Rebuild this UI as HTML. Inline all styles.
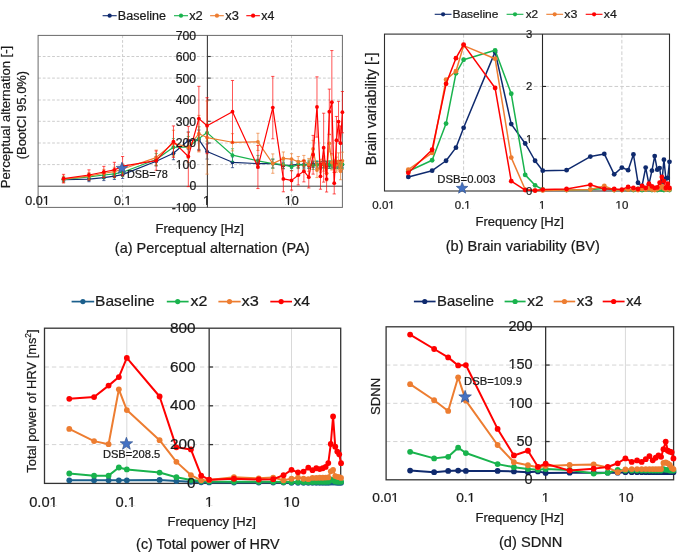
<!DOCTYPE html>
<html><head><meta charset="utf-8"><style>
html,body{margin:0;padding:0;background:#fff;}
svg{display:block;font-family:"Liberation Sans", sans-serif;-webkit-font-smoothing:antialiased;will-change:transform;}
text{stroke:#1a1a1a;stroke-width:0.22px;}
</style></head><body>
<svg width="685" height="552" viewBox="0 0 685 552">
<rect width="685" height="552" fill="#fff"/>
<line x1="38.10" y1="164.60" x2="342.40" y2="164.60" stroke="#cdcdcd" stroke-width="1" stroke-dasharray="2.8,1.87"/>
<line x1="38.10" y1="143.00" x2="342.40" y2="143.00" stroke="#cdcdcd" stroke-width="1" stroke-dasharray="2.8,1.87"/>
<line x1="38.10" y1="121.30" x2="342.40" y2="121.30" stroke="#cdcdcd" stroke-width="1" stroke-dasharray="2.8,1.87"/>
<line x1="38.10" y1="100.00" x2="342.40" y2="100.00" stroke="#cdcdcd" stroke-width="1" stroke-dasharray="2.8,1.87"/>
<line x1="38.10" y1="78.10" x2="342.40" y2="78.10" stroke="#cdcdcd" stroke-width="1" stroke-dasharray="2.8,1.87"/>
<line x1="38.10" y1="56.50" x2="342.40" y2="56.50" stroke="#cdcdcd" stroke-width="1" stroke-dasharray="2.8,1.87"/>
<line x1="122.58" y1="35.40" x2="122.58" y2="207.40" stroke="#cdcdcd" stroke-width="1" stroke-dasharray="2.8,1.87"/>
<line x1="291.54" y1="35.40" x2="291.54" y2="207.40" stroke="#cdcdcd" stroke-width="1" stroke-dasharray="2.8,1.87"/>
<rect x="38.1" y="35.4" width="304.30" height="172.00" fill="none" stroke="#6a6a6a" stroke-width="1"/>
<line x1="38.10" y1="186.20" x2="342.40" y2="186.20" stroke="#404040" stroke-width="1"/>
<line x1="207.40" y1="35.40" x2="207.40" y2="207.40" stroke="#3a3a3a" stroke-width="1.1"/>
<line x1="207.40" y1="164.60" x2="210.80" y2="164.60" stroke="#3a3a3a" stroke-width="1.1"/>
<line x1="207.40" y1="143.00" x2="210.80" y2="143.00" stroke="#3a3a3a" stroke-width="1.1"/>
<line x1="207.40" y1="121.30" x2="210.80" y2="121.30" stroke="#3a3a3a" stroke-width="1.1"/>
<line x1="207.40" y1="100.00" x2="210.80" y2="100.00" stroke="#3a3a3a" stroke-width="1.1"/>
<line x1="207.40" y1="78.10" x2="210.80" y2="78.10" stroke="#3a3a3a" stroke-width="1.1"/>
<line x1="207.40" y1="56.50" x2="210.80" y2="56.50" stroke="#3a3a3a" stroke-width="1.1"/>
<line x1="63.53" y1="177.59" x2="63.53" y2="181.89" stroke="#0f2a6e" stroke-width="0.9" stroke-opacity="0.75"/>
<line x1="61.93" y1="177.59" x2="65.13" y2="177.59" stroke="#0f2a6e" stroke-width="0.9" stroke-opacity="0.75"/>
<line x1="61.93" y1="181.89" x2="65.13" y2="181.89" stroke="#0f2a6e" stroke-width="0.9" stroke-opacity="0.75"/>
<line x1="88.96" y1="176.51" x2="88.96" y2="181.68" stroke="#0f2a6e" stroke-width="0.9" stroke-opacity="0.75"/>
<line x1="87.36" y1="176.51" x2="90.56" y2="176.51" stroke="#0f2a6e" stroke-width="0.9" stroke-opacity="0.75"/>
<line x1="87.36" y1="181.68" x2="90.56" y2="181.68" stroke="#0f2a6e" stroke-width="0.9" stroke-opacity="0.75"/>
<line x1="103.84" y1="174.57" x2="103.84" y2="180.60" stroke="#0f2a6e" stroke-width="0.9" stroke-opacity="0.75"/>
<line x1="102.24" y1="174.57" x2="105.44" y2="174.57" stroke="#0f2a6e" stroke-width="0.9" stroke-opacity="0.75"/>
<line x1="102.24" y1="180.60" x2="105.44" y2="180.60" stroke="#0f2a6e" stroke-width="0.9" stroke-opacity="0.75"/>
<line x1="114.39" y1="172.64" x2="114.39" y2="179.53" stroke="#0f2a6e" stroke-width="0.9" stroke-opacity="0.75"/>
<line x1="112.79" y1="172.64" x2="115.99" y2="172.64" stroke="#0f2a6e" stroke-width="0.9" stroke-opacity="0.75"/>
<line x1="112.79" y1="179.53" x2="115.99" y2="179.53" stroke="#0f2a6e" stroke-width="0.9" stroke-opacity="0.75"/>
<line x1="122.58" y1="170.70" x2="122.58" y2="178.45" stroke="#0f2a6e" stroke-width="0.9" stroke-opacity="0.75"/>
<line x1="120.98" y1="170.70" x2="124.18" y2="170.70" stroke="#0f2a6e" stroke-width="0.9" stroke-opacity="0.75"/>
<line x1="120.98" y1="178.45" x2="124.18" y2="178.45" stroke="#0f2a6e" stroke-width="0.9" stroke-opacity="0.75"/>
<line x1="156.20" y1="156.49" x2="156.20" y2="165.96" stroke="#0f2a6e" stroke-width="0.9" stroke-opacity="0.75"/>
<line x1="154.60" y1="156.49" x2="157.80" y2="156.49" stroke="#0f2a6e" stroke-width="0.9" stroke-opacity="0.75"/>
<line x1="154.60" y1="165.96" x2="157.80" y2="165.96" stroke="#0f2a6e" stroke-width="0.9" stroke-opacity="0.75"/>
<line x1="173.44" y1="146.80" x2="173.44" y2="159.72" stroke="#0f2a6e" stroke-width="0.9" stroke-opacity="0.75"/>
<line x1="171.84" y1="146.80" x2="175.04" y2="146.80" stroke="#0f2a6e" stroke-width="0.9" stroke-opacity="0.75"/>
<line x1="171.84" y1="159.72" x2="175.04" y2="159.72" stroke="#0f2a6e" stroke-width="0.9" stroke-opacity="0.75"/>
<line x1="188.32" y1="131.94" x2="188.32" y2="149.17" stroke="#0f2a6e" stroke-width="0.9" stroke-opacity="0.75"/>
<line x1="186.72" y1="131.94" x2="189.92" y2="131.94" stroke="#0f2a6e" stroke-width="0.9" stroke-opacity="0.75"/>
<line x1="186.72" y1="149.17" x2="189.92" y2="149.17" stroke="#0f2a6e" stroke-width="0.9" stroke-opacity="0.75"/>
<line x1="198.87" y1="130.01" x2="198.87" y2="149.38" stroke="#0f2a6e" stroke-width="0.9" stroke-opacity="0.75"/>
<line x1="197.27" y1="130.01" x2="200.47" y2="130.01" stroke="#0f2a6e" stroke-width="0.9" stroke-opacity="0.75"/>
<line x1="197.27" y1="149.38" x2="200.47" y2="149.38" stroke="#0f2a6e" stroke-width="0.9" stroke-opacity="0.75"/>
<line x1="207.06" y1="144.00" x2="207.06" y2="159.07" stroke="#0f2a6e" stroke-width="0.9" stroke-opacity="0.75"/>
<line x1="205.46" y1="144.00" x2="208.66" y2="144.00" stroke="#0f2a6e" stroke-width="0.9" stroke-opacity="0.75"/>
<line x1="205.46" y1="159.07" x2="208.66" y2="159.07" stroke="#0f2a6e" stroke-width="0.9" stroke-opacity="0.75"/>
<line x1="232.49" y1="156.92" x2="232.49" y2="167.68" stroke="#0f2a6e" stroke-width="0.9" stroke-opacity="0.75"/>
<line x1="230.89" y1="156.92" x2="234.09" y2="156.92" stroke="#0f2a6e" stroke-width="0.9" stroke-opacity="0.75"/>
<line x1="230.89" y1="167.68" x2="234.09" y2="167.68" stroke="#0f2a6e" stroke-width="0.9" stroke-opacity="0.75"/>
<line x1="257.92" y1="159.29" x2="257.92" y2="167.90" stroke="#0f2a6e" stroke-width="0.9" stroke-opacity="0.75"/>
<line x1="256.32" y1="159.29" x2="259.52" y2="159.29" stroke="#0f2a6e" stroke-width="0.9" stroke-opacity="0.75"/>
<line x1="256.32" y1="167.90" x2="259.52" y2="167.90" stroke="#0f2a6e" stroke-width="0.9" stroke-opacity="0.75"/>
<line x1="272.80" y1="159.29" x2="272.80" y2="167.90" stroke="#0f2a6e" stroke-width="0.9" stroke-opacity="0.75"/>
<line x1="271.20" y1="159.29" x2="274.40" y2="159.29" stroke="#0f2a6e" stroke-width="0.9" stroke-opacity="0.75"/>
<line x1="271.20" y1="167.90" x2="274.40" y2="167.90" stroke="#0f2a6e" stroke-width="0.9" stroke-opacity="0.75"/>
<line x1="283.35" y1="162.30" x2="283.35" y2="168.76" stroke="#0f2a6e" stroke-width="0.9" stroke-opacity="0.75"/>
<line x1="281.75" y1="162.30" x2="284.95" y2="162.30" stroke="#0f2a6e" stroke-width="0.9" stroke-opacity="0.75"/>
<line x1="281.75" y1="168.76" x2="284.95" y2="168.76" stroke="#0f2a6e" stroke-width="0.9" stroke-opacity="0.75"/>
<line x1="291.54" y1="161.87" x2="291.54" y2="168.33" stroke="#0f2a6e" stroke-width="0.9" stroke-opacity="0.75"/>
<line x1="289.94" y1="161.87" x2="293.14" y2="161.87" stroke="#0f2a6e" stroke-width="0.9" stroke-opacity="0.75"/>
<line x1="289.94" y1="168.33" x2="293.14" y2="168.33" stroke="#0f2a6e" stroke-width="0.9" stroke-opacity="0.75"/>
<line x1="298.23" y1="161.23" x2="298.23" y2="167.68" stroke="#0f2a6e" stroke-width="0.9" stroke-opacity="0.75"/>
<line x1="296.63" y1="161.23" x2="299.83" y2="161.23" stroke="#0f2a6e" stroke-width="0.9" stroke-opacity="0.75"/>
<line x1="296.63" y1="167.68" x2="299.83" y2="167.68" stroke="#0f2a6e" stroke-width="0.9" stroke-opacity="0.75"/>
<line x1="303.88" y1="161.44" x2="303.88" y2="167.90" stroke="#0f2a6e" stroke-width="0.9" stroke-opacity="0.75"/>
<line x1="302.28" y1="161.44" x2="305.48" y2="161.44" stroke="#0f2a6e" stroke-width="0.9" stroke-opacity="0.75"/>
<line x1="302.28" y1="167.90" x2="305.48" y2="167.90" stroke="#0f2a6e" stroke-width="0.9" stroke-opacity="0.75"/>
<line x1="308.78" y1="161.87" x2="308.78" y2="168.33" stroke="#0f2a6e" stroke-width="0.9" stroke-opacity="0.75"/>
<line x1="307.18" y1="161.87" x2="310.38" y2="161.87" stroke="#0f2a6e" stroke-width="0.9" stroke-opacity="0.75"/>
<line x1="307.18" y1="168.33" x2="310.38" y2="168.33" stroke="#0f2a6e" stroke-width="0.9" stroke-opacity="0.75"/>
<line x1="313.11" y1="161.01" x2="313.11" y2="167.47" stroke="#0f2a6e" stroke-width="0.9" stroke-opacity="0.75"/>
<line x1="311.51" y1="161.01" x2="314.71" y2="161.01" stroke="#0f2a6e" stroke-width="0.9" stroke-opacity="0.75"/>
<line x1="311.51" y1="167.47" x2="314.71" y2="167.47" stroke="#0f2a6e" stroke-width="0.9" stroke-opacity="0.75"/>
<line x1="316.97" y1="161.44" x2="316.97" y2="167.90" stroke="#0f2a6e" stroke-width="0.9" stroke-opacity="0.75"/>
<line x1="315.37" y1="161.44" x2="318.57" y2="161.44" stroke="#0f2a6e" stroke-width="0.9" stroke-opacity="0.75"/>
<line x1="315.37" y1="167.90" x2="318.57" y2="167.90" stroke="#0f2a6e" stroke-width="0.9" stroke-opacity="0.75"/>
<line x1="320.47" y1="161.66" x2="320.47" y2="168.11" stroke="#0f2a6e" stroke-width="0.9" stroke-opacity="0.75"/>
<line x1="318.87" y1="161.66" x2="322.07" y2="161.66" stroke="#0f2a6e" stroke-width="0.9" stroke-opacity="0.75"/>
<line x1="318.87" y1="168.11" x2="322.07" y2="168.11" stroke="#0f2a6e" stroke-width="0.9" stroke-opacity="0.75"/>
<line x1="323.66" y1="161.23" x2="323.66" y2="167.68" stroke="#0f2a6e" stroke-width="0.9" stroke-opacity="0.75"/>
<line x1="322.06" y1="161.23" x2="325.26" y2="161.23" stroke="#0f2a6e" stroke-width="0.9" stroke-opacity="0.75"/>
<line x1="322.06" y1="167.68" x2="325.26" y2="167.68" stroke="#0f2a6e" stroke-width="0.9" stroke-opacity="0.75"/>
<line x1="326.60" y1="161.44" x2="326.60" y2="167.90" stroke="#0f2a6e" stroke-width="0.9" stroke-opacity="0.75"/>
<line x1="325.00" y1="161.44" x2="328.20" y2="161.44" stroke="#0f2a6e" stroke-width="0.9" stroke-opacity="0.75"/>
<line x1="325.00" y1="167.90" x2="328.20" y2="167.90" stroke="#0f2a6e" stroke-width="0.9" stroke-opacity="0.75"/>
<line x1="329.32" y1="161.87" x2="329.32" y2="168.33" stroke="#0f2a6e" stroke-width="0.9" stroke-opacity="0.75"/>
<line x1="327.72" y1="161.87" x2="330.92" y2="161.87" stroke="#0f2a6e" stroke-width="0.9" stroke-opacity="0.75"/>
<line x1="327.72" y1="168.33" x2="330.92" y2="168.33" stroke="#0f2a6e" stroke-width="0.9" stroke-opacity="0.75"/>
<line x1="331.85" y1="161.44" x2="331.85" y2="167.90" stroke="#0f2a6e" stroke-width="0.9" stroke-opacity="0.75"/>
<line x1="330.25" y1="161.44" x2="333.45" y2="161.44" stroke="#0f2a6e" stroke-width="0.9" stroke-opacity="0.75"/>
<line x1="330.25" y1="167.90" x2="333.45" y2="167.90" stroke="#0f2a6e" stroke-width="0.9" stroke-opacity="0.75"/>
<line x1="334.22" y1="161.01" x2="334.22" y2="167.47" stroke="#0f2a6e" stroke-width="0.9" stroke-opacity="0.75"/>
<line x1="332.62" y1="161.01" x2="335.82" y2="161.01" stroke="#0f2a6e" stroke-width="0.9" stroke-opacity="0.75"/>
<line x1="332.62" y1="167.47" x2="335.82" y2="167.47" stroke="#0f2a6e" stroke-width="0.9" stroke-opacity="0.75"/>
<line x1="336.44" y1="161.66" x2="336.44" y2="168.11" stroke="#0f2a6e" stroke-width="0.9" stroke-opacity="0.75"/>
<line x1="334.84" y1="161.66" x2="338.04" y2="161.66" stroke="#0f2a6e" stroke-width="0.9" stroke-opacity="0.75"/>
<line x1="334.84" y1="168.11" x2="338.04" y2="168.11" stroke="#0f2a6e" stroke-width="0.9" stroke-opacity="0.75"/>
<line x1="338.54" y1="161.23" x2="338.54" y2="167.68" stroke="#0f2a6e" stroke-width="0.9" stroke-opacity="0.75"/>
<line x1="336.94" y1="161.23" x2="340.14" y2="161.23" stroke="#0f2a6e" stroke-width="0.9" stroke-opacity="0.75"/>
<line x1="336.94" y1="167.68" x2="340.14" y2="167.68" stroke="#0f2a6e" stroke-width="0.9" stroke-opacity="0.75"/>
<line x1="340.52" y1="161.44" x2="340.52" y2="167.90" stroke="#0f2a6e" stroke-width="0.9" stroke-opacity="0.75"/>
<line x1="338.92" y1="161.44" x2="342.12" y2="161.44" stroke="#0f2a6e" stroke-width="0.9" stroke-opacity="0.75"/>
<line x1="338.92" y1="167.90" x2="342.12" y2="167.90" stroke="#0f2a6e" stroke-width="0.9" stroke-opacity="0.75"/>
<line x1="342.40" y1="161.44" x2="342.40" y2="167.90" stroke="#0f2a6e" stroke-width="0.9" stroke-opacity="0.75"/>
<line x1="340.80" y1="161.44" x2="344.00" y2="161.44" stroke="#0f2a6e" stroke-width="0.9" stroke-opacity="0.75"/>
<line x1="340.80" y1="167.90" x2="344.00" y2="167.90" stroke="#0f2a6e" stroke-width="0.9" stroke-opacity="0.75"/>
<polyline points="63.53,179.74 88.96,179.10 103.84,177.59 114.39,176.08 122.58,174.57 156.20,161.23 173.44,153.26 188.32,140.56 198.87,139.70 207.06,151.54 232.49,162.30 257.92,163.59 272.80,163.59 283.35,165.53 291.54,165.10 298.23,164.45 303.88,164.67 308.78,165.10 313.11,164.24 316.97,164.67 320.47,164.89 323.66,164.45 326.60,164.67 329.32,165.10 331.85,164.67 334.22,164.24 336.44,164.89 338.54,164.45 340.52,164.67 342.40,164.67" fill="none" stroke="#0f2a6e" stroke-width="1.2" stroke-linejoin="round"/>
<circle cx="63.53" cy="179.74" r="1.9" fill="#0f2a6e"/>
<circle cx="88.96" cy="179.10" r="1.9" fill="#0f2a6e"/>
<circle cx="103.84" cy="177.59" r="1.9" fill="#0f2a6e"/>
<circle cx="114.39" cy="176.08" r="1.9" fill="#0f2a6e"/>
<circle cx="122.58" cy="174.57" r="1.9" fill="#0f2a6e"/>
<circle cx="156.20" cy="161.23" r="1.9" fill="#0f2a6e"/>
<circle cx="173.44" cy="153.26" r="1.9" fill="#0f2a6e"/>
<circle cx="188.32" cy="140.56" r="1.9" fill="#0f2a6e"/>
<circle cx="198.87" cy="139.70" r="1.9" fill="#0f2a6e"/>
<circle cx="207.06" cy="151.54" r="1.9" fill="#0f2a6e"/>
<circle cx="232.49" cy="162.30" r="1.9" fill="#0f2a6e"/>
<circle cx="257.92" cy="163.59" r="1.9" fill="#0f2a6e"/>
<circle cx="272.80" cy="163.59" r="1.9" fill="#0f2a6e"/>
<circle cx="283.35" cy="165.53" r="1.9" fill="#0f2a6e"/>
<circle cx="291.54" cy="165.10" r="1.9" fill="#0f2a6e"/>
<circle cx="298.23" cy="164.45" r="1.9" fill="#0f2a6e"/>
<circle cx="303.88" cy="164.67" r="1.9" fill="#0f2a6e"/>
<circle cx="308.78" cy="165.10" r="1.9" fill="#0f2a6e"/>
<circle cx="313.11" cy="164.24" r="1.9" fill="#0f2a6e"/>
<circle cx="316.97" cy="164.67" r="1.9" fill="#0f2a6e"/>
<circle cx="320.47" cy="164.89" r="1.9" fill="#0f2a6e"/>
<circle cx="323.66" cy="164.45" r="1.9" fill="#0f2a6e"/>
<circle cx="326.60" cy="164.67" r="1.9" fill="#0f2a6e"/>
<circle cx="329.32" cy="165.10" r="1.9" fill="#0f2a6e"/>
<circle cx="331.85" cy="164.67" r="1.9" fill="#0f2a6e"/>
<circle cx="334.22" cy="164.24" r="1.9" fill="#0f2a6e"/>
<circle cx="336.44" cy="164.89" r="1.9" fill="#0f2a6e"/>
<circle cx="338.54" cy="164.45" r="1.9" fill="#0f2a6e"/>
<circle cx="340.52" cy="164.67" r="1.9" fill="#0f2a6e"/>
<circle cx="342.40" cy="164.67" r="1.9" fill="#0f2a6e"/>
<line x1="63.53" y1="176.73" x2="63.53" y2="181.89" stroke="#19b34d" stroke-width="0.9" stroke-opacity="0.75"/>
<line x1="61.93" y1="176.73" x2="65.13" y2="176.73" stroke="#19b34d" stroke-width="0.9" stroke-opacity="0.75"/>
<line x1="61.93" y1="181.89" x2="65.13" y2="181.89" stroke="#19b34d" stroke-width="0.9" stroke-opacity="0.75"/>
<line x1="88.96" y1="173.93" x2="88.96" y2="179.96" stroke="#19b34d" stroke-width="0.9" stroke-opacity="0.75"/>
<line x1="87.36" y1="173.93" x2="90.56" y2="173.93" stroke="#19b34d" stroke-width="0.9" stroke-opacity="0.75"/>
<line x1="87.36" y1="179.96" x2="90.56" y2="179.96" stroke="#19b34d" stroke-width="0.9" stroke-opacity="0.75"/>
<line x1="103.84" y1="171.56" x2="103.84" y2="178.45" stroke="#19b34d" stroke-width="0.9" stroke-opacity="0.75"/>
<line x1="102.24" y1="171.56" x2="105.44" y2="171.56" stroke="#19b34d" stroke-width="0.9" stroke-opacity="0.75"/>
<line x1="102.24" y1="178.45" x2="105.44" y2="178.45" stroke="#19b34d" stroke-width="0.9" stroke-opacity="0.75"/>
<line x1="114.39" y1="170.05" x2="114.39" y2="177.80" stroke="#19b34d" stroke-width="0.9" stroke-opacity="0.75"/>
<line x1="112.79" y1="170.05" x2="115.99" y2="170.05" stroke="#19b34d" stroke-width="0.9" stroke-opacity="0.75"/>
<line x1="112.79" y1="177.80" x2="115.99" y2="177.80" stroke="#19b34d" stroke-width="0.9" stroke-opacity="0.75"/>
<line x1="122.58" y1="167.90" x2="122.58" y2="176.51" stroke="#19b34d" stroke-width="0.9" stroke-opacity="0.75"/>
<line x1="120.98" y1="167.90" x2="124.18" y2="167.90" stroke="#19b34d" stroke-width="0.9" stroke-opacity="0.75"/>
<line x1="120.98" y1="176.51" x2="124.18" y2="176.51" stroke="#19b34d" stroke-width="0.9" stroke-opacity="0.75"/>
<line x1="156.20" y1="153.47" x2="156.20" y2="165.53" stroke="#19b34d" stroke-width="0.9" stroke-opacity="0.75"/>
<line x1="154.60" y1="153.47" x2="157.80" y2="153.47" stroke="#19b34d" stroke-width="0.9" stroke-opacity="0.75"/>
<line x1="154.60" y1="165.53" x2="157.80" y2="165.53" stroke="#19b34d" stroke-width="0.9" stroke-opacity="0.75"/>
<line x1="173.44" y1="138.62" x2="173.44" y2="155.84" stroke="#19b34d" stroke-width="0.9" stroke-opacity="0.75"/>
<line x1="171.84" y1="138.62" x2="175.04" y2="138.62" stroke="#19b34d" stroke-width="0.9" stroke-opacity="0.75"/>
<line x1="171.84" y1="155.84" x2="175.04" y2="155.84" stroke="#19b34d" stroke-width="0.9" stroke-opacity="0.75"/>
<line x1="188.32" y1="136.47" x2="188.32" y2="158.00" stroke="#19b34d" stroke-width="0.9" stroke-opacity="0.75"/>
<line x1="186.72" y1="136.47" x2="189.92" y2="136.47" stroke="#19b34d" stroke-width="0.9" stroke-opacity="0.75"/>
<line x1="186.72" y1="158.00" x2="189.92" y2="158.00" stroke="#19b34d" stroke-width="0.9" stroke-opacity="0.75"/>
<line x1="198.87" y1="126.78" x2="198.87" y2="150.46" stroke="#19b34d" stroke-width="0.9" stroke-opacity="0.75"/>
<line x1="197.27" y1="126.78" x2="200.47" y2="126.78" stroke="#19b34d" stroke-width="0.9" stroke-opacity="0.75"/>
<line x1="197.27" y1="150.46" x2="200.47" y2="150.46" stroke="#19b34d" stroke-width="0.9" stroke-opacity="0.75"/>
<line x1="207.06" y1="123.98" x2="207.06" y2="141.20" stroke="#19b34d" stroke-width="0.9" stroke-opacity="0.75"/>
<line x1="205.46" y1="123.98" x2="208.66" y2="123.98" stroke="#19b34d" stroke-width="0.9" stroke-opacity="0.75"/>
<line x1="205.46" y1="141.20" x2="208.66" y2="141.20" stroke="#19b34d" stroke-width="0.9" stroke-opacity="0.75"/>
<line x1="232.49" y1="148.74" x2="232.49" y2="161.66" stroke="#19b34d" stroke-width="0.9" stroke-opacity="0.75"/>
<line x1="230.89" y1="148.74" x2="234.09" y2="148.74" stroke="#19b34d" stroke-width="0.9" stroke-opacity="0.75"/>
<line x1="230.89" y1="161.66" x2="234.09" y2="161.66" stroke="#19b34d" stroke-width="0.9" stroke-opacity="0.75"/>
<line x1="257.92" y1="155.41" x2="257.92" y2="166.18" stroke="#19b34d" stroke-width="0.9" stroke-opacity="0.75"/>
<line x1="256.32" y1="155.41" x2="259.52" y2="155.41" stroke="#19b34d" stroke-width="0.9" stroke-opacity="0.75"/>
<line x1="256.32" y1="166.18" x2="259.52" y2="166.18" stroke="#19b34d" stroke-width="0.9" stroke-opacity="0.75"/>
<line x1="272.80" y1="158.86" x2="272.80" y2="168.33" stroke="#19b34d" stroke-width="0.9" stroke-opacity="0.75"/>
<line x1="271.20" y1="158.86" x2="274.40" y2="158.86" stroke="#19b34d" stroke-width="0.9" stroke-opacity="0.75"/>
<line x1="271.20" y1="168.33" x2="274.40" y2="168.33" stroke="#19b34d" stroke-width="0.9" stroke-opacity="0.75"/>
<line x1="283.35" y1="160.79" x2="283.35" y2="168.55" stroke="#19b34d" stroke-width="0.9" stroke-opacity="0.75"/>
<line x1="281.75" y1="160.79" x2="284.95" y2="160.79" stroke="#19b34d" stroke-width="0.9" stroke-opacity="0.75"/>
<line x1="281.75" y1="168.55" x2="284.95" y2="168.55" stroke="#19b34d" stroke-width="0.9" stroke-opacity="0.75"/>
<line x1="291.54" y1="162.95" x2="291.54" y2="170.70" stroke="#19b34d" stroke-width="0.9" stroke-opacity="0.75"/>
<line x1="289.94" y1="162.95" x2="293.14" y2="162.95" stroke="#19b34d" stroke-width="0.9" stroke-opacity="0.75"/>
<line x1="289.94" y1="170.70" x2="293.14" y2="170.70" stroke="#19b34d" stroke-width="0.9" stroke-opacity="0.75"/>
<line x1="298.23" y1="160.79" x2="298.23" y2="168.55" stroke="#19b34d" stroke-width="0.9" stroke-opacity="0.75"/>
<line x1="296.63" y1="160.79" x2="299.83" y2="160.79" stroke="#19b34d" stroke-width="0.9" stroke-opacity="0.75"/>
<line x1="296.63" y1="168.55" x2="299.83" y2="168.55" stroke="#19b34d" stroke-width="0.9" stroke-opacity="0.75"/>
<line x1="303.88" y1="161.23" x2="303.88" y2="168.98" stroke="#19b34d" stroke-width="0.9" stroke-opacity="0.75"/>
<line x1="302.28" y1="161.23" x2="305.48" y2="161.23" stroke="#19b34d" stroke-width="0.9" stroke-opacity="0.75"/>
<line x1="302.28" y1="168.98" x2="305.48" y2="168.98" stroke="#19b34d" stroke-width="0.9" stroke-opacity="0.75"/>
<line x1="308.78" y1="160.15" x2="308.78" y2="167.90" stroke="#19b34d" stroke-width="0.9" stroke-opacity="0.75"/>
<line x1="307.18" y1="160.15" x2="310.38" y2="160.15" stroke="#19b34d" stroke-width="0.9" stroke-opacity="0.75"/>
<line x1="307.18" y1="167.90" x2="310.38" y2="167.90" stroke="#19b34d" stroke-width="0.9" stroke-opacity="0.75"/>
<line x1="313.11" y1="161.66" x2="313.11" y2="169.41" stroke="#19b34d" stroke-width="0.9" stroke-opacity="0.75"/>
<line x1="311.51" y1="161.66" x2="314.71" y2="161.66" stroke="#19b34d" stroke-width="0.9" stroke-opacity="0.75"/>
<line x1="311.51" y1="169.41" x2="314.71" y2="169.41" stroke="#19b34d" stroke-width="0.9" stroke-opacity="0.75"/>
<line x1="316.97" y1="160.79" x2="316.97" y2="168.55" stroke="#19b34d" stroke-width="0.9" stroke-opacity="0.75"/>
<line x1="315.37" y1="160.79" x2="318.57" y2="160.79" stroke="#19b34d" stroke-width="0.9" stroke-opacity="0.75"/>
<line x1="315.37" y1="168.55" x2="318.57" y2="168.55" stroke="#19b34d" stroke-width="0.9" stroke-opacity="0.75"/>
<line x1="320.47" y1="161.44" x2="320.47" y2="169.19" stroke="#19b34d" stroke-width="0.9" stroke-opacity="0.75"/>
<line x1="318.87" y1="161.44" x2="322.07" y2="161.44" stroke="#19b34d" stroke-width="0.9" stroke-opacity="0.75"/>
<line x1="318.87" y1="169.19" x2="322.07" y2="169.19" stroke="#19b34d" stroke-width="0.9" stroke-opacity="0.75"/>
<line x1="323.66" y1="160.36" x2="323.66" y2="168.11" stroke="#19b34d" stroke-width="0.9" stroke-opacity="0.75"/>
<line x1="322.06" y1="160.36" x2="325.26" y2="160.36" stroke="#19b34d" stroke-width="0.9" stroke-opacity="0.75"/>
<line x1="322.06" y1="168.11" x2="325.26" y2="168.11" stroke="#19b34d" stroke-width="0.9" stroke-opacity="0.75"/>
<line x1="326.60" y1="161.01" x2="326.60" y2="168.76" stroke="#19b34d" stroke-width="0.9" stroke-opacity="0.75"/>
<line x1="325.00" y1="161.01" x2="328.20" y2="161.01" stroke="#19b34d" stroke-width="0.9" stroke-opacity="0.75"/>
<line x1="325.00" y1="168.76" x2="328.20" y2="168.76" stroke="#19b34d" stroke-width="0.9" stroke-opacity="0.75"/>
<line x1="329.32" y1="160.58" x2="329.32" y2="168.33" stroke="#19b34d" stroke-width="0.9" stroke-opacity="0.75"/>
<line x1="327.72" y1="160.58" x2="330.92" y2="160.58" stroke="#19b34d" stroke-width="0.9" stroke-opacity="0.75"/>
<line x1="327.72" y1="168.33" x2="330.92" y2="168.33" stroke="#19b34d" stroke-width="0.9" stroke-opacity="0.75"/>
<line x1="331.85" y1="161.23" x2="331.85" y2="168.98" stroke="#19b34d" stroke-width="0.9" stroke-opacity="0.75"/>
<line x1="330.25" y1="161.23" x2="333.45" y2="161.23" stroke="#19b34d" stroke-width="0.9" stroke-opacity="0.75"/>
<line x1="330.25" y1="168.98" x2="333.45" y2="168.98" stroke="#19b34d" stroke-width="0.9" stroke-opacity="0.75"/>
<line x1="334.22" y1="160.15" x2="334.22" y2="167.90" stroke="#19b34d" stroke-width="0.9" stroke-opacity="0.75"/>
<line x1="332.62" y1="160.15" x2="335.82" y2="160.15" stroke="#19b34d" stroke-width="0.9" stroke-opacity="0.75"/>
<line x1="332.62" y1="167.90" x2="335.82" y2="167.90" stroke="#19b34d" stroke-width="0.9" stroke-opacity="0.75"/>
<line x1="336.44" y1="160.79" x2="336.44" y2="168.55" stroke="#19b34d" stroke-width="0.9" stroke-opacity="0.75"/>
<line x1="334.84" y1="160.79" x2="338.04" y2="160.79" stroke="#19b34d" stroke-width="0.9" stroke-opacity="0.75"/>
<line x1="334.84" y1="168.55" x2="338.04" y2="168.55" stroke="#19b34d" stroke-width="0.9" stroke-opacity="0.75"/>
<line x1="338.54" y1="161.01" x2="338.54" y2="168.76" stroke="#19b34d" stroke-width="0.9" stroke-opacity="0.75"/>
<line x1="336.94" y1="161.01" x2="340.14" y2="161.01" stroke="#19b34d" stroke-width="0.9" stroke-opacity="0.75"/>
<line x1="336.94" y1="168.76" x2="340.14" y2="168.76" stroke="#19b34d" stroke-width="0.9" stroke-opacity="0.75"/>
<line x1="340.52" y1="160.58" x2="340.52" y2="168.33" stroke="#19b34d" stroke-width="0.9" stroke-opacity="0.75"/>
<line x1="338.92" y1="160.58" x2="342.12" y2="160.58" stroke="#19b34d" stroke-width="0.9" stroke-opacity="0.75"/>
<line x1="338.92" y1="168.33" x2="342.12" y2="168.33" stroke="#19b34d" stroke-width="0.9" stroke-opacity="0.75"/>
<line x1="342.40" y1="160.36" x2="342.40" y2="168.11" stroke="#19b34d" stroke-width="0.9" stroke-opacity="0.75"/>
<line x1="340.80" y1="160.36" x2="344.00" y2="160.36" stroke="#19b34d" stroke-width="0.9" stroke-opacity="0.75"/>
<line x1="340.80" y1="168.11" x2="344.00" y2="168.11" stroke="#19b34d" stroke-width="0.9" stroke-opacity="0.75"/>
<polyline points="63.53,179.31 88.96,176.94 103.84,175.00 114.39,173.93 122.58,172.21 156.20,159.50 173.44,147.23 188.32,147.23 198.87,138.62 207.06,132.59 232.49,155.20 257.92,160.79 272.80,163.59 283.35,164.67 291.54,166.82 298.23,164.67 303.88,165.10 308.78,164.02 313.11,165.53 316.97,164.67 320.47,165.32 323.66,164.24 326.60,164.89 329.32,164.45 331.85,165.10 334.22,164.02 336.44,164.67 338.54,164.89 340.52,164.45 342.40,164.24" fill="none" stroke="#19b34d" stroke-width="1.2" stroke-linejoin="round"/>
<circle cx="63.53" cy="179.31" r="1.9" fill="#19b34d"/>
<circle cx="88.96" cy="176.94" r="1.9" fill="#19b34d"/>
<circle cx="103.84" cy="175.00" r="1.9" fill="#19b34d"/>
<circle cx="114.39" cy="173.93" r="1.9" fill="#19b34d"/>
<circle cx="122.58" cy="172.21" r="1.9" fill="#19b34d"/>
<circle cx="156.20" cy="159.50" r="1.9" fill="#19b34d"/>
<circle cx="173.44" cy="147.23" r="1.9" fill="#19b34d"/>
<circle cx="188.32" cy="147.23" r="1.9" fill="#19b34d"/>
<circle cx="198.87" cy="138.62" r="1.9" fill="#19b34d"/>
<circle cx="207.06" cy="132.59" r="1.9" fill="#19b34d"/>
<circle cx="232.49" cy="155.20" r="1.9" fill="#19b34d"/>
<circle cx="257.92" cy="160.79" r="1.9" fill="#19b34d"/>
<circle cx="272.80" cy="163.59" r="1.9" fill="#19b34d"/>
<circle cx="283.35" cy="164.67" r="1.9" fill="#19b34d"/>
<circle cx="291.54" cy="166.82" r="1.9" fill="#19b34d"/>
<circle cx="298.23" cy="164.67" r="1.9" fill="#19b34d"/>
<circle cx="303.88" cy="165.10" r="1.9" fill="#19b34d"/>
<circle cx="308.78" cy="164.02" r="1.9" fill="#19b34d"/>
<circle cx="313.11" cy="165.53" r="1.9" fill="#19b34d"/>
<circle cx="316.97" cy="164.67" r="1.9" fill="#19b34d"/>
<circle cx="320.47" cy="165.32" r="1.9" fill="#19b34d"/>
<circle cx="323.66" cy="164.24" r="1.9" fill="#19b34d"/>
<circle cx="326.60" cy="164.89" r="1.9" fill="#19b34d"/>
<circle cx="329.32" cy="164.45" r="1.9" fill="#19b34d"/>
<circle cx="331.85" cy="165.10" r="1.9" fill="#19b34d"/>
<circle cx="334.22" cy="164.02" r="1.9" fill="#19b34d"/>
<circle cx="336.44" cy="164.67" r="1.9" fill="#19b34d"/>
<circle cx="338.54" cy="164.89" r="1.9" fill="#19b34d"/>
<circle cx="340.52" cy="164.45" r="1.9" fill="#19b34d"/>
<circle cx="342.40" cy="164.24" r="1.9" fill="#19b34d"/>
<line x1="63.53" y1="176.08" x2="63.53" y2="182.11" stroke="#ed7d31" stroke-width="0.9" stroke-opacity="0.75"/>
<line x1="61.93" y1="176.08" x2="65.13" y2="176.08" stroke="#ed7d31" stroke-width="0.9" stroke-opacity="0.75"/>
<line x1="61.93" y1="182.11" x2="65.13" y2="182.11" stroke="#ed7d31" stroke-width="0.9" stroke-opacity="0.75"/>
<line x1="88.96" y1="172.64" x2="88.96" y2="179.53" stroke="#ed7d31" stroke-width="0.9" stroke-opacity="0.75"/>
<line x1="87.36" y1="172.64" x2="90.56" y2="172.64" stroke="#ed7d31" stroke-width="0.9" stroke-opacity="0.75"/>
<line x1="87.36" y1="179.53" x2="90.56" y2="179.53" stroke="#ed7d31" stroke-width="0.9" stroke-opacity="0.75"/>
<line x1="103.84" y1="169.41" x2="103.84" y2="177.16" stroke="#ed7d31" stroke-width="0.9" stroke-opacity="0.75"/>
<line x1="102.24" y1="169.41" x2="105.44" y2="169.41" stroke="#ed7d31" stroke-width="0.9" stroke-opacity="0.75"/>
<line x1="102.24" y1="177.16" x2="105.44" y2="177.16" stroke="#ed7d31" stroke-width="0.9" stroke-opacity="0.75"/>
<line x1="114.39" y1="167.25" x2="114.39" y2="175.87" stroke="#ed7d31" stroke-width="0.9" stroke-opacity="0.75"/>
<line x1="112.79" y1="167.25" x2="115.99" y2="167.25" stroke="#ed7d31" stroke-width="0.9" stroke-opacity="0.75"/>
<line x1="112.79" y1="175.87" x2="115.99" y2="175.87" stroke="#ed7d31" stroke-width="0.9" stroke-opacity="0.75"/>
<line x1="122.58" y1="163.81" x2="122.58" y2="174.14" stroke="#ed7d31" stroke-width="0.9" stroke-opacity="0.75"/>
<line x1="120.98" y1="163.81" x2="124.18" y2="163.81" stroke="#ed7d31" stroke-width="0.9" stroke-opacity="0.75"/>
<line x1="120.98" y1="174.14" x2="124.18" y2="174.14" stroke="#ed7d31" stroke-width="0.9" stroke-opacity="0.75"/>
<line x1="156.20" y1="150.03" x2="156.20" y2="165.10" stroke="#ed7d31" stroke-width="0.9" stroke-opacity="0.75"/>
<line x1="154.60" y1="150.03" x2="157.80" y2="150.03" stroke="#ed7d31" stroke-width="0.9" stroke-opacity="0.75"/>
<line x1="154.60" y1="165.10" x2="157.80" y2="165.10" stroke="#ed7d31" stroke-width="0.9" stroke-opacity="0.75"/>
<line x1="173.44" y1="130.22" x2="173.44" y2="156.06" stroke="#ed7d31" stroke-width="0.9" stroke-opacity="0.75"/>
<line x1="171.84" y1="130.22" x2="175.04" y2="130.22" stroke="#ed7d31" stroke-width="0.9" stroke-opacity="0.75"/>
<line x1="171.84" y1="156.06" x2="175.04" y2="156.06" stroke="#ed7d31" stroke-width="0.9" stroke-opacity="0.75"/>
<line x1="188.32" y1="132.38" x2="188.32" y2="162.52" stroke="#ed7d31" stroke-width="0.9" stroke-opacity="0.75"/>
<line x1="186.72" y1="132.38" x2="189.92" y2="132.38" stroke="#ed7d31" stroke-width="0.9" stroke-opacity="0.75"/>
<line x1="186.72" y1="162.52" x2="189.92" y2="162.52" stroke="#ed7d31" stroke-width="0.9" stroke-opacity="0.75"/>
<line x1="198.87" y1="115.37" x2="198.87" y2="151.97" stroke="#ed7d31" stroke-width="0.9" stroke-opacity="0.75"/>
<line x1="197.27" y1="115.37" x2="200.47" y2="115.37" stroke="#ed7d31" stroke-width="0.9" stroke-opacity="0.75"/>
<line x1="197.27" y1="151.97" x2="200.47" y2="151.97" stroke="#ed7d31" stroke-width="0.9" stroke-opacity="0.75"/>
<line x1="207.06" y1="100.94" x2="207.06" y2="174.14" stroke="#ed7d31" stroke-width="0.9" stroke-opacity="0.75"/>
<line x1="205.46" y1="100.94" x2="208.66" y2="100.94" stroke="#ed7d31" stroke-width="0.9" stroke-opacity="0.75"/>
<line x1="205.46" y1="174.14" x2="208.66" y2="174.14" stroke="#ed7d31" stroke-width="0.9" stroke-opacity="0.75"/>
<line x1="232.49" y1="133.67" x2="232.49" y2="150.89" stroke="#ed7d31" stroke-width="0.9" stroke-opacity="0.75"/>
<line x1="230.89" y1="133.67" x2="234.09" y2="133.67" stroke="#ed7d31" stroke-width="0.9" stroke-opacity="0.75"/>
<line x1="230.89" y1="150.89" x2="234.09" y2="150.89" stroke="#ed7d31" stroke-width="0.9" stroke-opacity="0.75"/>
<line x1="257.92" y1="133.24" x2="257.92" y2="150.46" stroke="#ed7d31" stroke-width="0.9" stroke-opacity="0.75"/>
<line x1="256.32" y1="133.24" x2="259.52" y2="133.24" stroke="#ed7d31" stroke-width="0.9" stroke-opacity="0.75"/>
<line x1="256.32" y1="150.46" x2="259.52" y2="150.46" stroke="#ed7d31" stroke-width="0.9" stroke-opacity="0.75"/>
<line x1="272.80" y1="153.90" x2="272.80" y2="173.28" stroke="#ed7d31" stroke-width="0.9" stroke-opacity="0.75"/>
<line x1="271.20" y1="153.90" x2="274.40" y2="153.90" stroke="#ed7d31" stroke-width="0.9" stroke-opacity="0.75"/>
<line x1="271.20" y1="173.28" x2="274.40" y2="173.28" stroke="#ed7d31" stroke-width="0.9" stroke-opacity="0.75"/>
<line x1="283.35" y1="151.97" x2="283.35" y2="164.89" stroke="#ed7d31" stroke-width="0.9" stroke-opacity="0.75"/>
<line x1="281.75" y1="151.97" x2="284.95" y2="151.97" stroke="#ed7d31" stroke-width="0.9" stroke-opacity="0.75"/>
<line x1="281.75" y1="164.89" x2="284.95" y2="164.89" stroke="#ed7d31" stroke-width="0.9" stroke-opacity="0.75"/>
<line x1="291.54" y1="153.69" x2="291.54" y2="164.45" stroke="#ed7d31" stroke-width="0.9" stroke-opacity="0.75"/>
<line x1="289.94" y1="153.69" x2="293.14" y2="153.69" stroke="#ed7d31" stroke-width="0.9" stroke-opacity="0.75"/>
<line x1="289.94" y1="164.45" x2="293.14" y2="164.45" stroke="#ed7d31" stroke-width="0.9" stroke-opacity="0.75"/>
<line x1="298.23" y1="156.49" x2="298.23" y2="167.25" stroke="#ed7d31" stroke-width="0.9" stroke-opacity="0.75"/>
<line x1="296.63" y1="156.49" x2="299.83" y2="156.49" stroke="#ed7d31" stroke-width="0.9" stroke-opacity="0.75"/>
<line x1="296.63" y1="167.25" x2="299.83" y2="167.25" stroke="#ed7d31" stroke-width="0.9" stroke-opacity="0.75"/>
<line x1="303.88" y1="155.41" x2="303.88" y2="166.18" stroke="#ed7d31" stroke-width="0.9" stroke-opacity="0.75"/>
<line x1="302.28" y1="155.41" x2="305.48" y2="155.41" stroke="#ed7d31" stroke-width="0.9" stroke-opacity="0.75"/>
<line x1="302.28" y1="166.18" x2="305.48" y2="166.18" stroke="#ed7d31" stroke-width="0.9" stroke-opacity="0.75"/>
<line x1="308.78" y1="158.43" x2="308.78" y2="171.34" stroke="#ed7d31" stroke-width="0.9" stroke-opacity="0.75"/>
<line x1="307.18" y1="158.43" x2="310.38" y2="158.43" stroke="#ed7d31" stroke-width="0.9" stroke-opacity="0.75"/>
<line x1="307.18" y1="171.34" x2="310.38" y2="171.34" stroke="#ed7d31" stroke-width="0.9" stroke-opacity="0.75"/>
<line x1="313.11" y1="140.34" x2="313.11" y2="157.57" stroke="#ed7d31" stroke-width="0.9" stroke-opacity="0.75"/>
<line x1="311.51" y1="140.34" x2="314.71" y2="140.34" stroke="#ed7d31" stroke-width="0.9" stroke-opacity="0.75"/>
<line x1="311.51" y1="157.57" x2="314.71" y2="157.57" stroke="#ed7d31" stroke-width="0.9" stroke-opacity="0.75"/>
<line x1="316.97" y1="162.52" x2="316.97" y2="177.59" stroke="#ed7d31" stroke-width="0.9" stroke-opacity="0.75"/>
<line x1="315.37" y1="162.52" x2="318.57" y2="162.52" stroke="#ed7d31" stroke-width="0.9" stroke-opacity="0.75"/>
<line x1="315.37" y1="177.59" x2="318.57" y2="177.59" stroke="#ed7d31" stroke-width="0.9" stroke-opacity="0.75"/>
<line x1="320.47" y1="159.29" x2="320.47" y2="172.21" stroke="#ed7d31" stroke-width="0.9" stroke-opacity="0.75"/>
<line x1="318.87" y1="159.29" x2="322.07" y2="159.29" stroke="#ed7d31" stroke-width="0.9" stroke-opacity="0.75"/>
<line x1="318.87" y1="172.21" x2="322.07" y2="172.21" stroke="#ed7d31" stroke-width="0.9" stroke-opacity="0.75"/>
<line x1="323.66" y1="156.06" x2="323.66" y2="171.13" stroke="#ed7d31" stroke-width="0.9" stroke-opacity="0.75"/>
<line x1="322.06" y1="156.06" x2="325.26" y2="156.06" stroke="#ed7d31" stroke-width="0.9" stroke-opacity="0.75"/>
<line x1="322.06" y1="171.13" x2="325.26" y2="171.13" stroke="#ed7d31" stroke-width="0.9" stroke-opacity="0.75"/>
<line x1="326.60" y1="165.75" x2="326.60" y2="180.82" stroke="#ed7d31" stroke-width="0.9" stroke-opacity="0.75"/>
<line x1="325.00" y1="165.75" x2="328.20" y2="165.75" stroke="#ed7d31" stroke-width="0.9" stroke-opacity="0.75"/>
<line x1="325.00" y1="180.82" x2="328.20" y2="180.82" stroke="#ed7d31" stroke-width="0.9" stroke-opacity="0.75"/>
<line x1="329.32" y1="134.74" x2="329.32" y2="151.97" stroke="#ed7d31" stroke-width="0.9" stroke-opacity="0.75"/>
<line x1="327.72" y1="134.74" x2="330.92" y2="134.74" stroke="#ed7d31" stroke-width="0.9" stroke-opacity="0.75"/>
<line x1="327.72" y1="151.97" x2="330.92" y2="151.97" stroke="#ed7d31" stroke-width="0.9" stroke-opacity="0.75"/>
<line x1="331.85" y1="154.98" x2="331.85" y2="170.05" stroke="#ed7d31" stroke-width="0.9" stroke-opacity="0.75"/>
<line x1="330.25" y1="154.98" x2="333.45" y2="154.98" stroke="#ed7d31" stroke-width="0.9" stroke-opacity="0.75"/>
<line x1="330.25" y1="170.05" x2="333.45" y2="170.05" stroke="#ed7d31" stroke-width="0.9" stroke-opacity="0.75"/>
<line x1="334.22" y1="159.29" x2="334.22" y2="172.21" stroke="#ed7d31" stroke-width="0.9" stroke-opacity="0.75"/>
<line x1="332.62" y1="159.29" x2="335.82" y2="159.29" stroke="#ed7d31" stroke-width="0.9" stroke-opacity="0.75"/>
<line x1="332.62" y1="172.21" x2="335.82" y2="172.21" stroke="#ed7d31" stroke-width="0.9" stroke-opacity="0.75"/>
<line x1="336.44" y1="157.13" x2="336.44" y2="172.21" stroke="#ed7d31" stroke-width="0.9" stroke-opacity="0.75"/>
<line x1="334.84" y1="157.13" x2="338.04" y2="157.13" stroke="#ed7d31" stroke-width="0.9" stroke-opacity="0.75"/>
<line x1="334.84" y1="172.21" x2="338.04" y2="172.21" stroke="#ed7d31" stroke-width="0.9" stroke-opacity="0.75"/>
<line x1="338.54" y1="152.83" x2="338.54" y2="170.05" stroke="#ed7d31" stroke-width="0.9" stroke-opacity="0.75"/>
<line x1="336.94" y1="152.83" x2="340.14" y2="152.83" stroke="#ed7d31" stroke-width="0.9" stroke-opacity="0.75"/>
<line x1="336.94" y1="170.05" x2="340.14" y2="170.05" stroke="#ed7d31" stroke-width="0.9" stroke-opacity="0.75"/>
<line x1="340.52" y1="162.52" x2="340.52" y2="179.74" stroke="#ed7d31" stroke-width="0.9" stroke-opacity="0.75"/>
<line x1="338.92" y1="162.52" x2="342.12" y2="162.52" stroke="#ed7d31" stroke-width="0.9" stroke-opacity="0.75"/>
<line x1="338.92" y1="179.74" x2="342.12" y2="179.74" stroke="#ed7d31" stroke-width="0.9" stroke-opacity="0.75"/>
<line x1="342.40" y1="152.18" x2="342.40" y2="169.41" stroke="#ed7d31" stroke-width="0.9" stroke-opacity="0.75"/>
<line x1="340.80" y1="152.18" x2="344.00" y2="152.18" stroke="#ed7d31" stroke-width="0.9" stroke-opacity="0.75"/>
<line x1="340.80" y1="169.41" x2="344.00" y2="169.41" stroke="#ed7d31" stroke-width="0.9" stroke-opacity="0.75"/>
<polyline points="63.53,179.10 88.96,176.08 103.84,173.28 114.39,171.56 122.58,168.98 156.20,157.57 173.44,143.14 188.32,147.45 198.87,133.67 207.06,137.54 232.49,142.28 257.92,141.85 272.80,163.59 283.35,158.43 291.54,159.07 298.23,161.87 303.88,160.79 308.78,164.89 313.11,148.95 316.97,170.05 320.47,165.75 323.66,163.59 326.60,173.28 329.32,143.36 331.85,162.52 334.22,165.75 336.44,164.67 338.54,161.44 340.52,171.13 342.40,160.79" fill="none" stroke="#ed7d31" stroke-width="1.2" stroke-linejoin="round"/>
<circle cx="63.53" cy="179.10" r="1.9" fill="#ed7d31"/>
<circle cx="88.96" cy="176.08" r="1.9" fill="#ed7d31"/>
<circle cx="103.84" cy="173.28" r="1.9" fill="#ed7d31"/>
<circle cx="114.39" cy="171.56" r="1.9" fill="#ed7d31"/>
<circle cx="122.58" cy="168.98" r="1.9" fill="#ed7d31"/>
<circle cx="156.20" cy="157.57" r="1.9" fill="#ed7d31"/>
<circle cx="173.44" cy="143.14" r="1.9" fill="#ed7d31"/>
<circle cx="188.32" cy="147.45" r="1.9" fill="#ed7d31"/>
<circle cx="198.87" cy="133.67" r="1.9" fill="#ed7d31"/>
<circle cx="207.06" cy="137.54" r="1.9" fill="#ed7d31"/>
<circle cx="232.49" cy="142.28" r="1.9" fill="#ed7d31"/>
<circle cx="257.92" cy="141.85" r="1.9" fill="#ed7d31"/>
<circle cx="272.80" cy="163.59" r="1.9" fill="#ed7d31"/>
<circle cx="283.35" cy="158.43" r="1.9" fill="#ed7d31"/>
<circle cx="291.54" cy="159.07" r="1.9" fill="#ed7d31"/>
<circle cx="298.23" cy="161.87" r="1.9" fill="#ed7d31"/>
<circle cx="303.88" cy="160.79" r="1.9" fill="#ed7d31"/>
<circle cx="308.78" cy="164.89" r="1.9" fill="#ed7d31"/>
<circle cx="313.11" cy="148.95" r="1.9" fill="#ed7d31"/>
<circle cx="316.97" cy="170.05" r="1.9" fill="#ed7d31"/>
<circle cx="320.47" cy="165.75" r="1.9" fill="#ed7d31"/>
<circle cx="323.66" cy="163.59" r="1.9" fill="#ed7d31"/>
<circle cx="326.60" cy="173.28" r="1.9" fill="#ed7d31"/>
<circle cx="329.32" cy="143.36" r="1.9" fill="#ed7d31"/>
<circle cx="331.85" cy="162.52" r="1.9" fill="#ed7d31"/>
<circle cx="334.22" cy="165.75" r="1.9" fill="#ed7d31"/>
<circle cx="336.44" cy="164.67" r="1.9" fill="#ed7d31"/>
<circle cx="338.54" cy="161.44" r="1.9" fill="#ed7d31"/>
<circle cx="340.52" cy="171.13" r="1.9" fill="#ed7d31"/>
<circle cx="342.40" cy="160.79" r="1.9" fill="#ed7d31"/>
<line x1="63.53" y1="174.36" x2="63.53" y2="182.97" stroke="#ff0000" stroke-width="0.9" stroke-opacity="0.75"/>
<line x1="61.93" y1="174.36" x2="65.13" y2="174.36" stroke="#ff0000" stroke-width="0.9" stroke-opacity="0.75"/>
<line x1="61.93" y1="182.97" x2="65.13" y2="182.97" stroke="#ff0000" stroke-width="0.9" stroke-opacity="0.75"/>
<line x1="88.96" y1="169.84" x2="88.96" y2="180.17" stroke="#ff0000" stroke-width="0.9" stroke-opacity="0.75"/>
<line x1="87.36" y1="169.84" x2="90.56" y2="169.84" stroke="#ff0000" stroke-width="0.9" stroke-opacity="0.75"/>
<line x1="87.36" y1="180.17" x2="90.56" y2="180.17" stroke="#ff0000" stroke-width="0.9" stroke-opacity="0.75"/>
<line x1="103.84" y1="166.39" x2="103.84" y2="177.59" stroke="#ff0000" stroke-width="0.9" stroke-opacity="0.75"/>
<line x1="102.24" y1="166.39" x2="105.44" y2="166.39" stroke="#ff0000" stroke-width="0.9" stroke-opacity="0.75"/>
<line x1="102.24" y1="177.59" x2="105.44" y2="177.59" stroke="#ff0000" stroke-width="0.9" stroke-opacity="0.75"/>
<line x1="114.39" y1="162.30" x2="114.39" y2="177.37" stroke="#ff0000" stroke-width="0.9" stroke-opacity="0.75"/>
<line x1="112.79" y1="162.30" x2="115.99" y2="162.30" stroke="#ff0000" stroke-width="0.9" stroke-opacity="0.75"/>
<line x1="112.79" y1="177.37" x2="115.99" y2="177.37" stroke="#ff0000" stroke-width="0.9" stroke-opacity="0.75"/>
<line x1="122.58" y1="156.49" x2="122.58" y2="175.87" stroke="#ff0000" stroke-width="0.9" stroke-opacity="0.75"/>
<line x1="120.98" y1="156.49" x2="124.18" y2="156.49" stroke="#ff0000" stroke-width="0.9" stroke-opacity="0.75"/>
<line x1="120.98" y1="175.87" x2="124.18" y2="175.87" stroke="#ff0000" stroke-width="0.9" stroke-opacity="0.75"/>
<line x1="156.20" y1="150.89" x2="156.20" y2="170.27" stroke="#ff0000" stroke-width="0.9" stroke-opacity="0.75"/>
<line x1="154.60" y1="150.89" x2="157.80" y2="150.89" stroke="#ff0000" stroke-width="0.9" stroke-opacity="0.75"/>
<line x1="154.60" y1="170.27" x2="157.80" y2="170.27" stroke="#ff0000" stroke-width="0.9" stroke-opacity="0.75"/>
<line x1="173.44" y1="125.92" x2="173.44" y2="157.35" stroke="#ff0000" stroke-width="0.9" stroke-opacity="0.75"/>
<line x1="171.84" y1="125.92" x2="175.04" y2="125.92" stroke="#ff0000" stroke-width="0.9" stroke-opacity="0.75"/>
<line x1="171.84" y1="157.35" x2="175.04" y2="157.35" stroke="#ff0000" stroke-width="0.9" stroke-opacity="0.75"/>
<line x1="188.32" y1="126.35" x2="188.32" y2="186.63" stroke="#ff0000" stroke-width="0.9" stroke-opacity="0.75"/>
<line x1="186.72" y1="126.35" x2="189.92" y2="126.35" stroke="#ff0000" stroke-width="0.9" stroke-opacity="0.75"/>
<line x1="186.72" y1="186.63" x2="189.92" y2="186.63" stroke="#ff0000" stroke-width="0.9" stroke-opacity="0.75"/>
<line x1="198.87" y1="86.30" x2="198.87" y2="150.89" stroke="#ff0000" stroke-width="0.9" stroke-opacity="0.75"/>
<line x1="197.27" y1="86.30" x2="200.47" y2="86.30" stroke="#ff0000" stroke-width="0.9" stroke-opacity="0.75"/>
<line x1="197.27" y1="150.89" x2="200.47" y2="150.89" stroke="#ff0000" stroke-width="0.9" stroke-opacity="0.75"/>
<line x1="207.06" y1="97.71" x2="207.06" y2="153.69" stroke="#ff0000" stroke-width="0.9" stroke-opacity="0.75"/>
<line x1="205.46" y1="97.71" x2="208.66" y2="97.71" stroke="#ff0000" stroke-width="0.9" stroke-opacity="0.75"/>
<line x1="205.46" y1="153.69" x2="208.66" y2="153.69" stroke="#ff0000" stroke-width="0.9" stroke-opacity="0.75"/>
<line x1="232.49" y1="80.49" x2="232.49" y2="142.92" stroke="#ff0000" stroke-width="0.9" stroke-opacity="0.75"/>
<line x1="230.89" y1="80.49" x2="234.09" y2="80.49" stroke="#ff0000" stroke-width="0.9" stroke-opacity="0.75"/>
<line x1="230.89" y1="142.92" x2="234.09" y2="142.92" stroke="#ff0000" stroke-width="0.9" stroke-opacity="0.75"/>
<line x1="257.92" y1="145.51" x2="257.92" y2="188.57" stroke="#ff0000" stroke-width="0.9" stroke-opacity="0.75"/>
<line x1="256.32" y1="145.51" x2="259.52" y2="145.51" stroke="#ff0000" stroke-width="0.9" stroke-opacity="0.75"/>
<line x1="256.32" y1="188.57" x2="259.52" y2="188.57" stroke="#ff0000" stroke-width="0.9" stroke-opacity="0.75"/>
<line x1="272.80" y1="76.40" x2="272.80" y2="138.83" stroke="#ff0000" stroke-width="0.9" stroke-opacity="0.75"/>
<line x1="271.20" y1="76.40" x2="274.40" y2="76.40" stroke="#ff0000" stroke-width="0.9" stroke-opacity="0.75"/>
<line x1="271.20" y1="138.83" x2="274.40" y2="138.83" stroke="#ff0000" stroke-width="0.9" stroke-opacity="0.75"/>
<line x1="283.35" y1="165.96" x2="283.35" y2="191.80" stroke="#ff0000" stroke-width="0.9" stroke-opacity="0.75"/>
<line x1="281.75" y1="165.96" x2="284.95" y2="165.96" stroke="#ff0000" stroke-width="0.9" stroke-opacity="0.75"/>
<line x1="281.75" y1="191.80" x2="284.95" y2="191.80" stroke="#ff0000" stroke-width="0.9" stroke-opacity="0.75"/>
<line x1="291.54" y1="170.70" x2="291.54" y2="190.08" stroke="#ff0000" stroke-width="0.9" stroke-opacity="0.75"/>
<line x1="289.94" y1="170.70" x2="293.14" y2="170.70" stroke="#ff0000" stroke-width="0.9" stroke-opacity="0.75"/>
<line x1="289.94" y1="190.08" x2="293.14" y2="190.08" stroke="#ff0000" stroke-width="0.9" stroke-opacity="0.75"/>
<line x1="298.23" y1="165.53" x2="298.23" y2="184.91" stroke="#ff0000" stroke-width="0.9" stroke-opacity="0.75"/>
<line x1="296.63" y1="165.53" x2="299.83" y2="165.53" stroke="#ff0000" stroke-width="0.9" stroke-opacity="0.75"/>
<line x1="296.63" y1="184.91" x2="299.83" y2="184.91" stroke="#ff0000" stroke-width="0.9" stroke-opacity="0.75"/>
<line x1="303.88" y1="160.36" x2="303.88" y2="181.89" stroke="#ff0000" stroke-width="0.9" stroke-opacity="0.75"/>
<line x1="302.28" y1="160.36" x2="305.48" y2="160.36" stroke="#ff0000" stroke-width="0.9" stroke-opacity="0.75"/>
<line x1="302.28" y1="181.89" x2="305.48" y2="181.89" stroke="#ff0000" stroke-width="0.9" stroke-opacity="0.75"/>
<line x1="308.78" y1="166.39" x2="308.78" y2="187.92" stroke="#ff0000" stroke-width="0.9" stroke-opacity="0.75"/>
<line x1="307.18" y1="166.39" x2="310.38" y2="166.39" stroke="#ff0000" stroke-width="0.9" stroke-opacity="0.75"/>
<line x1="307.18" y1="187.92" x2="310.38" y2="187.92" stroke="#ff0000" stroke-width="0.9" stroke-opacity="0.75"/>
<line x1="313.11" y1="135.39" x2="313.11" y2="174.14" stroke="#ff0000" stroke-width="0.9" stroke-opacity="0.75"/>
<line x1="311.51" y1="135.39" x2="314.71" y2="135.39" stroke="#ff0000" stroke-width="0.9" stroke-opacity="0.75"/>
<line x1="311.51" y1="174.14" x2="314.71" y2="174.14" stroke="#ff0000" stroke-width="0.9" stroke-opacity="0.75"/>
<line x1="316.97" y1="76.83" x2="316.97" y2="137.11" stroke="#ff0000" stroke-width="0.9" stroke-opacity="0.75"/>
<line x1="315.37" y1="76.83" x2="318.57" y2="76.83" stroke="#ff0000" stroke-width="0.9" stroke-opacity="0.75"/>
<line x1="315.37" y1="137.11" x2="318.57" y2="137.11" stroke="#ff0000" stroke-width="0.9" stroke-opacity="0.75"/>
<line x1="320.47" y1="163.38" x2="320.47" y2="189.21" stroke="#ff0000" stroke-width="0.9" stroke-opacity="0.75"/>
<line x1="318.87" y1="163.38" x2="322.07" y2="163.38" stroke="#ff0000" stroke-width="0.9" stroke-opacity="0.75"/>
<line x1="318.87" y1="189.21" x2="322.07" y2="189.21" stroke="#ff0000" stroke-width="0.9" stroke-opacity="0.75"/>
<line x1="323.66" y1="113.21" x2="323.66" y2="182.11" stroke="#ff0000" stroke-width="0.9" stroke-opacity="0.75"/>
<line x1="322.06" y1="113.21" x2="325.26" y2="113.21" stroke="#ff0000" stroke-width="0.9" stroke-opacity="0.75"/>
<line x1="322.06" y1="182.11" x2="325.26" y2="182.11" stroke="#ff0000" stroke-width="0.9" stroke-opacity="0.75"/>
<line x1="326.60" y1="166.18" x2="326.60" y2="192.01" stroke="#ff0000" stroke-width="0.9" stroke-opacity="0.75"/>
<line x1="325.00" y1="166.18" x2="328.20" y2="166.18" stroke="#ff0000" stroke-width="0.9" stroke-opacity="0.75"/>
<line x1="325.00" y1="192.01" x2="328.20" y2="192.01" stroke="#ff0000" stroke-width="0.9" stroke-opacity="0.75"/>
<line x1="329.32" y1="89.10" x2="329.32" y2="134.31" stroke="#ff0000" stroke-width="0.9" stroke-opacity="0.75"/>
<line x1="327.72" y1="89.10" x2="330.92" y2="89.10" stroke="#ff0000" stroke-width="0.9" stroke-opacity="0.75"/>
<line x1="327.72" y1="134.31" x2="330.92" y2="134.31" stroke="#ff0000" stroke-width="0.9" stroke-opacity="0.75"/>
<line x1="331.85" y1="50.56" x2="331.85" y2="153.90" stroke="#ff0000" stroke-width="0.9" stroke-opacity="0.75"/>
<line x1="330.25" y1="50.56" x2="333.45" y2="50.56" stroke="#ff0000" stroke-width="0.9" stroke-opacity="0.75"/>
<line x1="330.25" y1="153.90" x2="333.45" y2="153.90" stroke="#ff0000" stroke-width="0.9" stroke-opacity="0.75"/>
<line x1="334.22" y1="172.42" x2="334.22" y2="193.95" stroke="#ff0000" stroke-width="0.9" stroke-opacity="0.75"/>
<line x1="332.62" y1="172.42" x2="335.82" y2="172.42" stroke="#ff0000" stroke-width="0.9" stroke-opacity="0.75"/>
<line x1="332.62" y1="193.95" x2="335.82" y2="193.95" stroke="#ff0000" stroke-width="0.9" stroke-opacity="0.75"/>
<line x1="336.44" y1="116.44" x2="336.44" y2="163.81" stroke="#ff0000" stroke-width="0.9" stroke-opacity="0.75"/>
<line x1="334.84" y1="116.44" x2="338.04" y2="116.44" stroke="#ff0000" stroke-width="0.9" stroke-opacity="0.75"/>
<line x1="334.84" y1="163.81" x2="338.04" y2="163.81" stroke="#ff0000" stroke-width="0.9" stroke-opacity="0.75"/>
<line x1="338.54" y1="101.37" x2="338.54" y2="141.85" stroke="#ff0000" stroke-width="0.9" stroke-opacity="0.75"/>
<line x1="336.94" y1="101.37" x2="340.14" y2="101.37" stroke="#ff0000" stroke-width="0.9" stroke-opacity="0.75"/>
<line x1="336.94" y1="141.85" x2="340.14" y2="141.85" stroke="#ff0000" stroke-width="0.9" stroke-opacity="0.75"/>
<line x1="340.52" y1="125.92" x2="340.52" y2="160.36" stroke="#ff0000" stroke-width="0.9" stroke-opacity="0.75"/>
<line x1="338.92" y1="125.92" x2="342.12" y2="125.92" stroke="#ff0000" stroke-width="0.9" stroke-opacity="0.75"/>
<line x1="338.92" y1="160.36" x2="342.12" y2="160.36" stroke="#ff0000" stroke-width="0.9" stroke-opacity="0.75"/>
<line x1="342.40" y1="91.47" x2="342.40" y2="132.81" stroke="#ff0000" stroke-width="0.9" stroke-opacity="0.75"/>
<line x1="340.80" y1="91.47" x2="344.00" y2="91.47" stroke="#ff0000" stroke-width="0.9" stroke-opacity="0.75"/>
<line x1="340.80" y1="132.81" x2="344.00" y2="132.81" stroke="#ff0000" stroke-width="0.9" stroke-opacity="0.75"/>
<polyline points="63.53,178.66 88.96,175.00 103.84,171.99 114.39,169.84 122.58,166.18 156.20,160.58 173.44,141.63 188.32,156.49 198.87,118.60 207.06,125.70 232.49,111.71 257.92,167.04 272.80,107.62 283.35,178.88 291.54,180.39 298.23,175.22 303.88,171.13 308.78,177.16 313.11,154.77 316.97,106.97 320.47,176.30 323.66,147.66 326.60,179.10 329.32,111.71 331.85,102.23 334.22,183.19 336.44,140.13 338.54,121.61 340.52,143.14 342.40,112.14" fill="none" stroke="#ff0000" stroke-width="1.2" stroke-linejoin="round"/>
<circle cx="63.53" cy="178.66" r="1.9" fill="#ff0000"/>
<circle cx="88.96" cy="175.00" r="1.9" fill="#ff0000"/>
<circle cx="103.84" cy="171.99" r="1.9" fill="#ff0000"/>
<circle cx="114.39" cy="169.84" r="1.9" fill="#ff0000"/>
<circle cx="122.58" cy="166.18" r="1.9" fill="#ff0000"/>
<circle cx="156.20" cy="160.58" r="1.9" fill="#ff0000"/>
<circle cx="173.44" cy="141.63" r="1.9" fill="#ff0000"/>
<circle cx="188.32" cy="156.49" r="1.9" fill="#ff0000"/>
<circle cx="198.87" cy="118.60" r="1.9" fill="#ff0000"/>
<circle cx="207.06" cy="125.70" r="1.9" fill="#ff0000"/>
<circle cx="232.49" cy="111.71" r="1.9" fill="#ff0000"/>
<circle cx="257.92" cy="167.04" r="1.9" fill="#ff0000"/>
<circle cx="272.80" cy="107.62" r="1.9" fill="#ff0000"/>
<circle cx="283.35" cy="178.88" r="1.9" fill="#ff0000"/>
<circle cx="291.54" cy="180.39" r="1.9" fill="#ff0000"/>
<circle cx="298.23" cy="175.22" r="1.9" fill="#ff0000"/>
<circle cx="303.88" cy="171.13" r="1.9" fill="#ff0000"/>
<circle cx="308.78" cy="177.16" r="1.9" fill="#ff0000"/>
<circle cx="313.11" cy="154.77" r="1.9" fill="#ff0000"/>
<circle cx="316.97" cy="106.97" r="1.9" fill="#ff0000"/>
<circle cx="320.47" cy="176.30" r="1.9" fill="#ff0000"/>
<circle cx="323.66" cy="147.66" r="1.9" fill="#ff0000"/>
<circle cx="326.60" cy="179.10" r="1.9" fill="#ff0000"/>
<circle cx="329.32" cy="111.71" r="1.9" fill="#ff0000"/>
<circle cx="331.85" cy="102.23" r="1.9" fill="#ff0000"/>
<circle cx="334.22" cy="183.19" r="1.9" fill="#ff0000"/>
<circle cx="336.44" cy="140.13" r="1.9" fill="#ff0000"/>
<circle cx="338.54" cy="121.61" r="1.9" fill="#ff0000"/>
<circle cx="340.52" cy="143.14" r="1.9" fill="#ff0000"/>
<circle cx="342.40" cy="112.14" r="1.9" fill="#ff0000"/>
<polygon points="121.90,162.30 123.37,166.28 127.61,166.45 124.28,169.07 125.43,173.15 121.90,170.80 118.37,173.15 119.52,169.07 116.19,166.45 120.43,166.28" fill="#4472c4" stroke="#2f528f" stroke-width="0.7"/>
<text x="127.01" y="178.40" font-size="11.5" textLength="40.77" lengthAdjust="spacingAndGlyphs" fill="#1a1a1a">DSB=78</text>
<mask id="m1_1" maskUnits="userSpaceOnUse" x="0" y="0" width="685" height="552"><rect x="0" y="0" width="685" height="552" fill="#fff"/><rect x="176.29" y="210.64" width="2.57" height="2.76" fill="#000"/><rect x="179.94" y="210.64" width="2.70" height="2.76" fill="#000"/></mask>
<text x="171.74" y="211.80" font-size="12.2" textLength="24.42" lengthAdjust="spacingAndGlyphs" fill="#1a1a1a" mask="url(#m1_1)">-100</text>
<text x="189.38" y="190.27" font-size="12.2" textLength="6.79" lengthAdjust="spacingAndGlyphs" fill="#1a1a1a">0</text>
<mask id="m1_2" maskUnits="userSpaceOnUse" x="0" y="0" width="685" height="552"><rect x="0" y="0" width="685" height="552" fill="#fff"/><rect x="176.30" y="167.58" width="2.57" height="2.76" fill="#000"/><rect x="179.95" y="167.58" width="2.70" height="2.76" fill="#000"/></mask>
<text x="175.81" y="168.74" font-size="12.2" textLength="20.36" lengthAdjust="spacingAndGlyphs" fill="#1a1a1a" mask="url(#m1_2)">100</text>
<text x="175.81" y="147.21" font-size="12.2" textLength="20.36" lengthAdjust="spacingAndGlyphs" fill="#1a1a1a">200</text>
<text x="175.81" y="125.68" font-size="12.2" textLength="20.36" lengthAdjust="spacingAndGlyphs" fill="#1a1a1a">300</text>
<text x="175.81" y="104.15" font-size="12.2" textLength="20.36" lengthAdjust="spacingAndGlyphs" fill="#1a1a1a">400</text>
<text x="175.81" y="82.62" font-size="12.2" textLength="20.36" lengthAdjust="spacingAndGlyphs" fill="#1a1a1a">500</text>
<text x="175.81" y="61.09" font-size="12.2" textLength="20.36" lengthAdjust="spacingAndGlyphs" fill="#1a1a1a">600</text>
<text x="175.81" y="39.56" font-size="12.2" textLength="20.36" lengthAdjust="spacingAndGlyphs" fill="#1a1a1a">700</text>
<mask id="m1_3" maskUnits="userSpaceOnUse" x="0" y="0" width="685" height="552"><rect x="0" y="0" width="685" height="552" fill="#fff"/><rect x="43.32" y="203.80" width="2.66" height="2.80" fill="#000"/><rect x="47.09" y="203.80" width="2.78" height="2.80" fill="#000"/></mask>
<text x="25.30" y="205.00" font-size="12.6" textLength="24.52" lengthAdjust="spacingAndGlyphs" fill="#1a1a1a" mask="url(#m1_3)">0.01</text>
<mask id="m1_4" maskUnits="userSpaceOnUse" x="0" y="0" width="685" height="552"><rect x="0" y="0" width="685" height="552" fill="#fff"/><rect x="125.02" y="203.80" width="2.66" height="2.80" fill="#000"/><rect x="128.79" y="203.80" width="2.78" height="2.80" fill="#000"/></mask>
<text x="114.01" y="205.00" font-size="12.6" textLength="17.52" lengthAdjust="spacingAndGlyphs" fill="#1a1a1a" mask="url(#m1_4)">0.1</text>
<mask id="m1_5" maskUnits="userSpaceOnUse" x="0" y="0" width="685" height="552"><rect x="0" y="0" width="685" height="552" fill="#fff"/><rect x="203.52" y="203.80" width="2.66" height="2.80" fill="#000"/><rect x="207.29" y="203.80" width="2.78" height="2.80" fill="#000"/></mask>
<text x="203.02" y="205.00" font-size="12.6" textLength="7.01" lengthAdjust="spacingAndGlyphs" fill="#1a1a1a" mask="url(#m1_5)">1</text>
<mask id="m1_6" maskUnits="userSpaceOnUse" x="0" y="0" width="685" height="552"><rect x="0" y="0" width="685" height="552" fill="#fff"/><rect x="285.26" y="203.80" width="2.66" height="2.80" fill="#000"/><rect x="289.03" y="203.80" width="2.78" height="2.80" fill="#000"/></mask>
<text x="284.75" y="205.00" font-size="12.6" textLength="14.02" lengthAdjust="spacingAndGlyphs" fill="#1a1a1a" mask="url(#m1_6)">10</text>
<text x="155.53" y="232.90" font-size="12.7" textLength="88.41" lengthAdjust="spacingAndGlyphs" fill="#1a1a1a">Frequency [Hz]</text>
<text x="114.80" y="252.60" font-size="14.6" textLength="194.87" lengthAdjust="spacingAndGlyphs" fill="#1a1a1a">(a) Perceptual alternation (PA)</text>
<text transform="translate(9.90,187.10) rotate(-90)" x="-1.07" y="0" font-size="12.8" textLength="142.40" lengthAdjust="spacingAndGlyphs" fill="#1a1a1a">Perceptual alternation [-]</text>
<text transform="translate(25.60,158.50) rotate(-90)" x="-0.80" y="0" font-size="12.8" textLength="88.49" lengthAdjust="spacingAndGlyphs" fill="#1a1a1a">(BootCI 95.0%)</text>
<line x1="102.60" y1="15.70" x2="116.70" y2="15.70" stroke="#0f2a6e" stroke-width="1.1"/>
<circle cx="109.65" cy="15.70" r="2.1" fill="#0f2a6e"/>
<text x="117.87" y="19.60" font-size="12" textLength="48.08" lengthAdjust="spacingAndGlyphs" fill="#1a1a1a">Baseline</text>
<line x1="174.00" y1="15.70" x2="188.00" y2="15.70" stroke="#19b34d" stroke-width="1.1"/>
<circle cx="181.00" cy="15.70" r="2.1" fill="#19b34d"/>
<text x="189.15" y="19.60" font-size="12" textLength="13.60" lengthAdjust="spacingAndGlyphs" fill="#1a1a1a">x2</text>
<line x1="210.10" y1="15.70" x2="223.80" y2="15.70" stroke="#ed7d31" stroke-width="1.1"/>
<circle cx="216.95" cy="15.70" r="2.1" fill="#ed7d31"/>
<text x="225.25" y="19.60" font-size="12" textLength="13.62" lengthAdjust="spacingAndGlyphs" fill="#1a1a1a">x3</text>
<line x1="246.30" y1="15.70" x2="259.90" y2="15.70" stroke="#ff0000" stroke-width="1.1"/>
<circle cx="253.10" cy="15.70" r="2.1" fill="#ff0000"/>
<text x="261.35" y="19.60" font-size="12" textLength="13.10" lengthAdjust="spacingAndGlyphs" fill="#1a1a1a">x4</text>
<line x1="384.50" y1="138.77" x2="669.50" y2="138.77" stroke="#cdcdcd" stroke-width="1" stroke-dasharray="3.6,2.15"/>
<line x1="384.50" y1="86.44" x2="669.50" y2="86.44" stroke="#cdcdcd" stroke-width="1" stroke-dasharray="3.6,2.15"/>
<line x1="463.62" y1="34.10" x2="463.62" y2="191.00" stroke="#cdcdcd" stroke-width="1" stroke-dasharray="3.6,2.15"/>
<line x1="621.86" y1="34.10" x2="621.86" y2="191.00" stroke="#cdcdcd" stroke-width="1" stroke-dasharray="3.6,2.15"/>
<rect x="384.5" y="34.1" width="285.00" height="156.90" fill="none" stroke="#2e2e2e" stroke-width="1.1"/>
<line x1="542.50" y1="34.10" x2="542.50" y2="191.00" stroke="#262626" stroke-width="1.1"/>
<line x1="542.50" y1="138.77" x2="546.00" y2="138.77" stroke="#262626" stroke-width="1.1"/>
<line x1="542.50" y1="86.44" x2="546.00" y2="86.44" stroke="#262626" stroke-width="1.1"/>
<polyline points="408.32,176.97 432.13,170.69 446.07,160.75 455.95,147.67 463.62,127.78 495.11,51.90 511.25,124.12 525.19,143.48 535.07,160.75 542.74,170.69 566.56,170.17 590.37,156.56 604.31,153.95 614.19,174.35 621.86,167.55 628.12,170.17 633.42,154.47 638.01,182.73 642.06,185.87 645.68,167.55 648.95,184.30 651.94,170.69 654.69,156.04 657.24,169.64 659.61,168.07 661.83,183.25 663.91,159.70 665.87,178.54 667.73,178.02 669.49,161.80" fill="none" stroke="#0f2a6e" stroke-width="1.5" stroke-linejoin="round"/>
<circle cx="408.32" cy="176.97" r="2.4" fill="#0f2a6e"/>
<circle cx="432.13" cy="170.69" r="2.4" fill="#0f2a6e"/>
<circle cx="446.07" cy="160.75" r="2.4" fill="#0f2a6e"/>
<circle cx="455.95" cy="147.67" r="2.4" fill="#0f2a6e"/>
<circle cx="463.62" cy="127.78" r="2.4" fill="#0f2a6e"/>
<circle cx="495.11" cy="51.90" r="2.4" fill="#0f2a6e"/>
<circle cx="511.25" cy="124.12" r="2.4" fill="#0f2a6e"/>
<circle cx="525.19" cy="143.48" r="2.4" fill="#0f2a6e"/>
<circle cx="535.07" cy="160.75" r="2.4" fill="#0f2a6e"/>
<circle cx="542.74" cy="170.69" r="2.4" fill="#0f2a6e"/>
<circle cx="566.56" cy="170.17" r="2.4" fill="#0f2a6e"/>
<circle cx="590.37" cy="156.56" r="2.4" fill="#0f2a6e"/>
<circle cx="604.31" cy="153.95" r="2.4" fill="#0f2a6e"/>
<circle cx="614.19" cy="174.35" r="2.4" fill="#0f2a6e"/>
<circle cx="621.86" cy="167.55" r="2.4" fill="#0f2a6e"/>
<circle cx="628.12" cy="170.17" r="2.4" fill="#0f2a6e"/>
<circle cx="633.42" cy="154.47" r="2.4" fill="#0f2a6e"/>
<circle cx="638.01" cy="182.73" r="2.4" fill="#0f2a6e"/>
<circle cx="642.06" cy="185.87" r="2.4" fill="#0f2a6e"/>
<circle cx="645.68" cy="167.55" r="2.4" fill="#0f2a6e"/>
<circle cx="648.95" cy="184.30" r="2.4" fill="#0f2a6e"/>
<circle cx="651.94" cy="170.69" r="2.4" fill="#0f2a6e"/>
<circle cx="654.69" cy="156.04" r="2.4" fill="#0f2a6e"/>
<circle cx="657.24" cy="169.64" r="2.4" fill="#0f2a6e"/>
<circle cx="659.61" cy="168.07" r="2.4" fill="#0f2a6e"/>
<circle cx="661.83" cy="183.25" r="2.4" fill="#0f2a6e"/>
<circle cx="663.91" cy="159.70" r="2.4" fill="#0f2a6e"/>
<circle cx="665.87" cy="178.54" r="2.4" fill="#0f2a6e"/>
<circle cx="667.73" cy="178.02" r="2.4" fill="#0f2a6e"/>
<circle cx="669.49" cy="161.80" r="2.4" fill="#0f2a6e"/>
<polyline points="408.32,171.21 432.13,160.23 446.07,123.59 455.95,73.36 463.62,59.75 495.11,50.33 511.25,93.77 525.19,174.88 535.07,185.34 542.74,189.53 566.56,190.05 590.37,189.53 604.31,188.48 614.19,190.05 621.86,190.05 628.12,189.53 633.42,190.05 638.01,189.01 642.06,190.05 645.68,189.53 648.95,189.01 651.94,190.05 654.69,189.53 657.24,190.05 659.61,189.01 661.83,189.53 663.91,190.05 665.87,188.48 667.73,189.53 669.49,190.05" fill="none" stroke="#19b34d" stroke-width="1.5" stroke-linejoin="round"/>
<circle cx="408.32" cy="171.21" r="2.4" fill="#19b34d"/>
<circle cx="432.13" cy="160.23" r="2.4" fill="#19b34d"/>
<circle cx="446.07" cy="123.59" r="2.4" fill="#19b34d"/>
<circle cx="455.95" cy="73.36" r="2.4" fill="#19b34d"/>
<circle cx="463.62" cy="59.75" r="2.4" fill="#19b34d"/>
<circle cx="495.11" cy="50.33" r="2.4" fill="#19b34d"/>
<circle cx="511.25" cy="93.77" r="2.4" fill="#19b34d"/>
<circle cx="525.19" cy="174.88" r="2.4" fill="#19b34d"/>
<circle cx="535.07" cy="185.34" r="2.4" fill="#19b34d"/>
<circle cx="542.74" cy="189.53" r="2.4" fill="#19b34d"/>
<circle cx="566.56" cy="190.05" r="2.4" fill="#19b34d"/>
<circle cx="590.37" cy="189.53" r="2.4" fill="#19b34d"/>
<circle cx="604.31" cy="188.48" r="2.4" fill="#19b34d"/>
<circle cx="614.19" cy="190.05" r="2.4" fill="#19b34d"/>
<circle cx="621.86" cy="190.05" r="2.4" fill="#19b34d"/>
<circle cx="628.12" cy="189.53" r="2.4" fill="#19b34d"/>
<circle cx="633.42" cy="190.05" r="2.4" fill="#19b34d"/>
<circle cx="638.01" cy="189.01" r="2.4" fill="#19b34d"/>
<circle cx="642.06" cy="190.05" r="2.4" fill="#19b34d"/>
<circle cx="645.68" cy="189.53" r="2.4" fill="#19b34d"/>
<circle cx="648.95" cy="189.01" r="2.4" fill="#19b34d"/>
<circle cx="651.94" cy="190.05" r="2.4" fill="#19b34d"/>
<circle cx="654.69" cy="189.53" r="2.4" fill="#19b34d"/>
<circle cx="657.24" cy="190.05" r="2.4" fill="#19b34d"/>
<circle cx="659.61" cy="189.01" r="2.4" fill="#19b34d"/>
<circle cx="661.83" cy="189.53" r="2.4" fill="#19b34d"/>
<circle cx="663.91" cy="190.05" r="2.4" fill="#19b34d"/>
<circle cx="665.87" cy="188.48" r="2.4" fill="#19b34d"/>
<circle cx="667.73" cy="189.53" r="2.4" fill="#19b34d"/>
<circle cx="669.49" cy="190.05" r="2.4" fill="#19b34d"/>
<polyline points="408.32,169.64 432.13,152.90 446.07,79.64 455.95,71.26 463.62,45.62 495.11,58.71 511.25,157.61 525.19,189.53 535.07,190.58 542.74,190.58 566.56,190.05 590.37,189.53 604.31,185.87 614.19,190.05 621.86,190.05 628.12,189.53 633.42,189.53 638.01,190.05 642.06,189.01 645.68,189.53 648.95,188.48 651.94,189.53 654.69,190.05 657.24,189.01 659.61,187.96 661.83,185.87 663.91,188.48 665.87,189.53 667.73,186.91 669.49,189.53" fill="none" stroke="#ed7d31" stroke-width="1.5" stroke-linejoin="round"/>
<circle cx="408.32" cy="169.64" r="2.4" fill="#ed7d31"/>
<circle cx="432.13" cy="152.90" r="2.4" fill="#ed7d31"/>
<circle cx="446.07" cy="79.64" r="2.4" fill="#ed7d31"/>
<circle cx="455.95" cy="71.26" r="2.4" fill="#ed7d31"/>
<circle cx="463.62" cy="45.62" r="2.4" fill="#ed7d31"/>
<circle cx="495.11" cy="58.71" r="2.4" fill="#ed7d31"/>
<circle cx="511.25" cy="157.61" r="2.4" fill="#ed7d31"/>
<circle cx="525.19" cy="189.53" r="2.4" fill="#ed7d31"/>
<circle cx="535.07" cy="190.58" r="2.4" fill="#ed7d31"/>
<circle cx="542.74" cy="190.58" r="2.4" fill="#ed7d31"/>
<circle cx="566.56" cy="190.05" r="2.4" fill="#ed7d31"/>
<circle cx="590.37" cy="189.53" r="2.4" fill="#ed7d31"/>
<circle cx="604.31" cy="185.87" r="2.4" fill="#ed7d31"/>
<circle cx="614.19" cy="190.05" r="2.4" fill="#ed7d31"/>
<circle cx="621.86" cy="190.05" r="2.4" fill="#ed7d31"/>
<circle cx="628.12" cy="189.53" r="2.4" fill="#ed7d31"/>
<circle cx="633.42" cy="189.53" r="2.4" fill="#ed7d31"/>
<circle cx="638.01" cy="190.05" r="2.4" fill="#ed7d31"/>
<circle cx="642.06" cy="189.01" r="2.4" fill="#ed7d31"/>
<circle cx="645.68" cy="189.53" r="2.4" fill="#ed7d31"/>
<circle cx="648.95" cy="188.48" r="2.4" fill="#ed7d31"/>
<circle cx="651.94" cy="189.53" r="2.4" fill="#ed7d31"/>
<circle cx="654.69" cy="190.05" r="2.4" fill="#ed7d31"/>
<circle cx="657.24" cy="189.01" r="2.4" fill="#ed7d31"/>
<circle cx="659.61" cy="187.96" r="2.4" fill="#ed7d31"/>
<circle cx="661.83" cy="185.87" r="2.4" fill="#ed7d31"/>
<circle cx="663.91" cy="188.48" r="2.4" fill="#ed7d31"/>
<circle cx="665.87" cy="189.53" r="2.4" fill="#ed7d31"/>
<circle cx="667.73" cy="186.91" r="2.4" fill="#ed7d31"/>
<circle cx="669.49" cy="189.53" r="2.4" fill="#ed7d31"/>
<polyline points="408.32,172.78 432.13,149.76 446.07,83.82 455.95,58.18 463.62,44.58 495.11,88.01 511.25,181.16 525.19,190.05 535.07,190.58 542.74,189.53 566.56,189.01 590.37,184.82 604.31,189.01 614.19,189.01 621.86,189.53 628.12,186.91 633.42,187.96 638.01,189.01 642.06,185.87 645.68,187.96 648.95,183.77 651.94,186.39 654.69,187.96 657.24,187.44 659.61,182.73 661.83,176.97 663.91,181.16 665.87,187.96 667.73,183.77 669.49,187.96" fill="none" stroke="#ff0000" stroke-width="1.5" stroke-linejoin="round"/>
<circle cx="408.32" cy="172.78" r="2.4" fill="#ff0000"/>
<circle cx="432.13" cy="149.76" r="2.4" fill="#ff0000"/>
<circle cx="446.07" cy="83.82" r="2.4" fill="#ff0000"/>
<circle cx="455.95" cy="58.18" r="2.4" fill="#ff0000"/>
<circle cx="463.62" cy="44.58" r="2.4" fill="#ff0000"/>
<circle cx="495.11" cy="88.01" r="2.4" fill="#ff0000"/>
<circle cx="511.25" cy="181.16" r="2.4" fill="#ff0000"/>
<circle cx="525.19" cy="190.05" r="2.4" fill="#ff0000"/>
<circle cx="535.07" cy="190.58" r="2.4" fill="#ff0000"/>
<circle cx="542.74" cy="189.53" r="2.4" fill="#ff0000"/>
<circle cx="566.56" cy="189.01" r="2.4" fill="#ff0000"/>
<circle cx="590.37" cy="184.82" r="2.4" fill="#ff0000"/>
<circle cx="604.31" cy="189.01" r="2.4" fill="#ff0000"/>
<circle cx="614.19" cy="189.01" r="2.4" fill="#ff0000"/>
<circle cx="621.86" cy="189.53" r="2.4" fill="#ff0000"/>
<circle cx="628.12" cy="186.91" r="2.4" fill="#ff0000"/>
<circle cx="633.42" cy="187.96" r="2.4" fill="#ff0000"/>
<circle cx="638.01" cy="189.01" r="2.4" fill="#ff0000"/>
<circle cx="642.06" cy="185.87" r="2.4" fill="#ff0000"/>
<circle cx="645.68" cy="187.96" r="2.4" fill="#ff0000"/>
<circle cx="648.95" cy="183.77" r="2.4" fill="#ff0000"/>
<circle cx="651.94" cy="186.39" r="2.4" fill="#ff0000"/>
<circle cx="654.69" cy="187.96" r="2.4" fill="#ff0000"/>
<circle cx="657.24" cy="187.44" r="2.4" fill="#ff0000"/>
<circle cx="659.61" cy="182.73" r="2.4" fill="#ff0000"/>
<circle cx="661.83" cy="176.97" r="2.4" fill="#ff0000"/>
<circle cx="663.91" cy="181.16" r="2.4" fill="#ff0000"/>
<circle cx="665.87" cy="187.96" r="2.4" fill="#ff0000"/>
<circle cx="667.73" cy="183.77" r="2.4" fill="#ff0000"/>
<circle cx="669.49" cy="187.96" r="2.4" fill="#ff0000"/>
<polygon points="462.10,182.30 463.57,186.28 467.81,186.45 464.48,189.07 465.63,193.15 462.10,190.80 458.57,193.15 459.72,189.07 456.39,186.45 460.63,186.28" fill="#4472c4" stroke="#2f528f" stroke-width="0.7"/>
<text x="437.27" y="183.00" font-size="11.2" textLength="58.23" lengthAdjust="spacingAndGlyphs" fill="#1a1a1a">DSB=0.003</text>
<text x="525.95" y="194.90" font-size="11.3" textLength="6.28" lengthAdjust="spacingAndGlyphs" fill="#1a1a1a">0</text>
<mask id="m1_7" maskUnits="userSpaceOnUse" x="0" y="0" width="685" height="552"><rect x="0" y="0" width="685" height="552" fill="#fff"/><rect x="526.51" y="141.50" width="2.38" height="2.67" fill="#000"/><rect x="529.89" y="141.50" width="2.50" height="2.67" fill="#000"/></mask>
<text x="526.06" y="142.57" font-size="11.3" textLength="6.28" lengthAdjust="spacingAndGlyphs" fill="#1a1a1a" mask="url(#m1_7)">1</text>
<text x="526.08" y="90.24" font-size="11.3" textLength="6.28" lengthAdjust="spacingAndGlyphs" fill="#1a1a1a">2</text>
<text x="526.01" y="37.91" font-size="11.3" textLength="6.28" lengthAdjust="spacingAndGlyphs" fill="#1a1a1a">3</text>
<mask id="m1_8" maskUnits="userSpaceOnUse" x="0" y="0" width="685" height="552"><rect x="0" y="0" width="685" height="552" fill="#fff"/><rect x="388.81" y="208.01" width="2.43" height="2.69" fill="#000"/><rect x="392.25" y="208.01" width="2.54" height="2.69" fill="#000"/></mask>
<text x="372.37" y="209.10" font-size="11.5" textLength="22.38" lengthAdjust="spacingAndGlyphs" fill="#1a1a1a" mask="url(#m1_8)">0.01</text>
<mask id="m1_9" maskUnits="userSpaceOnUse" x="0" y="0" width="685" height="552"><rect x="0" y="0" width="685" height="552" fill="#fff"/><rect x="464.82" y="208.01" width="2.43" height="2.69" fill="#000"/><rect x="468.25" y="208.01" width="2.54" height="2.69" fill="#000"/></mask>
<text x="454.76" y="209.10" font-size="11.5" textLength="15.99" lengthAdjust="spacingAndGlyphs" fill="#1a1a1a" mask="url(#m1_9)">0.1</text>
<mask id="m1_10" maskUnits="userSpaceOnUse" x="0" y="0" width="685" height="552"><rect x="0" y="0" width="685" height="552" fill="#fff"/><rect x="539.40" y="208.01" width="2.43" height="2.69" fill="#000"/><rect x="542.84" y="208.01" width="2.54" height="2.69" fill="#000"/></mask>
<text x="538.94" y="209.10" font-size="11.5" textLength="6.40" lengthAdjust="spacingAndGlyphs" fill="#1a1a1a" mask="url(#m1_10)">1</text>
<mask id="m1_11" maskUnits="userSpaceOnUse" x="0" y="0" width="685" height="552"><rect x="0" y="0" width="685" height="552" fill="#fff"/><rect x="616.05" y="208.01" width="2.43" height="2.69" fill="#000"/><rect x="619.49" y="208.01" width="2.54" height="2.69" fill="#000"/></mask>
<text x="615.59" y="209.10" font-size="11.5" textLength="12.79" lengthAdjust="spacingAndGlyphs" fill="#1a1a1a" mask="url(#m1_11)">10</text>
<text x="475.53" y="225.90" font-size="12.5" textLength="88.41" lengthAdjust="spacingAndGlyphs" fill="#1a1a1a">Frequency [Hz]</text>
<text x="445.69" y="251.40" font-size="13.9" textLength="154.18" lengthAdjust="spacingAndGlyphs" fill="#1a1a1a">(b) Brain variability (BV)</text>
<text transform="translate(375.60,164.10) rotate(-90)" x="-1.16" y="0" font-size="14" textLength="112.80" lengthAdjust="spacingAndGlyphs" fill="#1a1a1a">Brain variability [-]</text>
<line x1="434.70" y1="14.30" x2="451.50" y2="14.30" stroke="#0f2a6e" stroke-width="1.1"/>
<circle cx="443.10" cy="14.30" r="2.1" fill="#0f2a6e"/>
<text x="452.42" y="17.70" font-size="11.8" textLength="46.01" lengthAdjust="spacingAndGlyphs" fill="#1a1a1a">Baseline</text>
<line x1="506.60" y1="14.30" x2="523.40" y2="14.30" stroke="#19b34d" stroke-width="1.1"/>
<circle cx="515.00" cy="14.30" r="2.1" fill="#19b34d"/>
<text x="525.66" y="17.70" font-size="11.8" textLength="12.43" lengthAdjust="spacingAndGlyphs" fill="#1a1a1a">x2</text>
<line x1="546.30" y1="14.30" x2="563.10" y2="14.30" stroke="#ed7d31" stroke-width="1.1"/>
<circle cx="554.70" cy="14.30" r="2.1" fill="#ed7d31"/>
<text x="564.35" y="17.70" font-size="11.8" textLength="13.10" lengthAdjust="spacingAndGlyphs" fill="#1a1a1a">x3</text>
<line x1="585.70" y1="14.30" x2="602.50" y2="14.30" stroke="#ff0000" stroke-width="1.1"/>
<circle cx="594.10" cy="14.30" r="2.1" fill="#ff0000"/>
<text x="603.75" y="17.70" font-size="11.8" textLength="12.99" lengthAdjust="spacingAndGlyphs" fill="#1a1a1a">x4</text>
<line x1="44.50" y1="444.60" x2="340.70" y2="444.60" stroke="#d4d4d4" stroke-width="1" stroke-dasharray="4.4,3.0"/>
<line x1="44.50" y1="405.80" x2="340.70" y2="405.80" stroke="#d4d4d4" stroke-width="1" stroke-dasharray="4.4,3.0"/>
<line x1="44.50" y1="367.00" x2="340.70" y2="367.00" stroke="#d4d4d4" stroke-width="1" stroke-dasharray="4.4,3.0"/>
<line x1="126.83" y1="328.20" x2="126.83" y2="483.40" stroke="#d9d9d9" stroke-width="1"/>
<line x1="291.49" y1="328.20" x2="291.49" y2="483.40" stroke="#d9d9d9" stroke-width="1"/>
<rect x="44.5" y="328.2" width="296.20" height="155.20" fill="none" stroke="#333" stroke-width="1.3"/>
<line x1="209.16" y1="328.20" x2="209.16" y2="483.40" stroke="#333" stroke-width="1.3"/>
<line x1="209.16" y1="444.60" x2="213.16" y2="444.60" stroke="#333" stroke-width="1.3"/>
<line x1="209.16" y1="405.80" x2="213.16" y2="405.80" stroke="#333" stroke-width="1.3"/>
<line x1="209.16" y1="367.00" x2="213.16" y2="367.00" stroke="#333" stroke-width="1.3"/>
<polyline points="69.28,480.30 94.07,480.30 108.57,480.30 118.85,480.30 126.83,480.30 159.59,479.91 176.40,481.07 190.90,481.85 201.18,482.24 209.16,482.43 233.94,482.62 258.73,482.62 273.23,482.62 283.51,482.62 291.49,482.82 298.01,482.82 303.52,482.82 308.30,482.82 312.51,482.82 316.27,482.82 319.68,482.82 322.79,482.82 325.65,482.82 328.30,482.82 330.77,482.62 333.08,482.62 335.25,482.62 337.29,482.82 339.22,482.82 341.06,482.82" fill="none" stroke="#1b5f8c" stroke-width="2" stroke-linejoin="round"/>
<circle cx="69.28" cy="480.30" r="2.9" fill="#1b5f8c"/>
<circle cx="94.07" cy="480.30" r="2.9" fill="#1b5f8c"/>
<circle cx="108.57" cy="480.30" r="2.9" fill="#1b5f8c"/>
<circle cx="118.85" cy="480.30" r="2.9" fill="#1b5f8c"/>
<circle cx="126.83" cy="480.30" r="2.9" fill="#1b5f8c"/>
<circle cx="159.59" cy="479.91" r="2.9" fill="#1b5f8c"/>
<circle cx="176.40" cy="481.07" r="2.9" fill="#1b5f8c"/>
<circle cx="190.90" cy="481.85" r="2.9" fill="#1b5f8c"/>
<circle cx="201.18" cy="482.24" r="2.9" fill="#1b5f8c"/>
<circle cx="209.16" cy="482.43" r="2.9" fill="#1b5f8c"/>
<circle cx="233.94" cy="482.62" r="2.9" fill="#1b5f8c"/>
<circle cx="258.73" cy="482.62" r="2.9" fill="#1b5f8c"/>
<circle cx="273.23" cy="482.62" r="2.9" fill="#1b5f8c"/>
<circle cx="283.51" cy="482.62" r="2.9" fill="#1b5f8c"/>
<circle cx="291.49" cy="482.82" r="2.9" fill="#1b5f8c"/>
<circle cx="298.01" cy="482.82" r="2.9" fill="#1b5f8c"/>
<circle cx="303.52" cy="482.82" r="2.9" fill="#1b5f8c"/>
<circle cx="308.30" cy="482.82" r="2.9" fill="#1b5f8c"/>
<circle cx="312.51" cy="482.82" r="2.9" fill="#1b5f8c"/>
<circle cx="316.27" cy="482.82" r="2.9" fill="#1b5f8c"/>
<circle cx="319.68" cy="482.82" r="2.9" fill="#1b5f8c"/>
<circle cx="322.79" cy="482.82" r="2.9" fill="#1b5f8c"/>
<circle cx="325.65" cy="482.82" r="2.9" fill="#1b5f8c"/>
<circle cx="328.30" cy="482.82" r="2.9" fill="#1b5f8c"/>
<circle cx="330.77" cy="482.62" r="2.9" fill="#1b5f8c"/>
<circle cx="333.08" cy="482.62" r="2.9" fill="#1b5f8c"/>
<circle cx="335.25" cy="482.62" r="2.9" fill="#1b5f8c"/>
<circle cx="337.29" cy="482.82" r="2.9" fill="#1b5f8c"/>
<circle cx="339.22" cy="482.82" r="2.9" fill="#1b5f8c"/>
<circle cx="341.06" cy="482.82" r="2.9" fill="#1b5f8c"/>
<polyline points="69.28,473.51 94.07,475.64 108.57,475.64 118.85,467.49 126.83,469.43 159.59,472.54 176.40,477.19 190.90,480.10 201.18,481.07 209.16,481.46 233.94,481.65 258.73,481.85 273.23,481.85 283.51,482.04 291.49,482.04 298.01,482.04 303.52,482.04 308.30,482.04 312.51,482.04 316.27,481.85 319.68,481.85 322.79,481.85 325.65,481.85 328.30,481.65 330.77,479.52 333.08,480.30 335.25,481.46 337.29,481.65 339.22,481.65 341.06,481.65" fill="none" stroke="#19b34d" stroke-width="2" stroke-linejoin="round"/>
<circle cx="69.28" cy="473.51" r="2.9" fill="#19b34d"/>
<circle cx="94.07" cy="475.64" r="2.9" fill="#19b34d"/>
<circle cx="108.57" cy="475.64" r="2.9" fill="#19b34d"/>
<circle cx="118.85" cy="467.49" r="2.9" fill="#19b34d"/>
<circle cx="126.83" cy="469.43" r="2.9" fill="#19b34d"/>
<circle cx="159.59" cy="472.54" r="2.9" fill="#19b34d"/>
<circle cx="176.40" cy="477.19" r="2.9" fill="#19b34d"/>
<circle cx="190.90" cy="480.10" r="2.9" fill="#19b34d"/>
<circle cx="201.18" cy="481.07" r="2.9" fill="#19b34d"/>
<circle cx="209.16" cy="481.46" r="2.9" fill="#19b34d"/>
<circle cx="233.94" cy="481.65" r="2.9" fill="#19b34d"/>
<circle cx="258.73" cy="481.85" r="2.9" fill="#19b34d"/>
<circle cx="273.23" cy="481.85" r="2.9" fill="#19b34d"/>
<circle cx="283.51" cy="482.04" r="2.9" fill="#19b34d"/>
<circle cx="291.49" cy="482.04" r="2.9" fill="#19b34d"/>
<circle cx="298.01" cy="482.04" r="2.9" fill="#19b34d"/>
<circle cx="303.52" cy="482.04" r="2.9" fill="#19b34d"/>
<circle cx="308.30" cy="482.04" r="2.9" fill="#19b34d"/>
<circle cx="312.51" cy="482.04" r="2.9" fill="#19b34d"/>
<circle cx="316.27" cy="481.85" r="2.9" fill="#19b34d"/>
<circle cx="319.68" cy="481.85" r="2.9" fill="#19b34d"/>
<circle cx="322.79" cy="481.85" r="2.9" fill="#19b34d"/>
<circle cx="325.65" cy="481.85" r="2.9" fill="#19b34d"/>
<circle cx="328.30" cy="481.65" r="2.9" fill="#19b34d"/>
<circle cx="330.77" cy="479.52" r="2.9" fill="#19b34d"/>
<circle cx="333.08" cy="480.30" r="2.9" fill="#19b34d"/>
<circle cx="335.25" cy="481.46" r="2.9" fill="#19b34d"/>
<circle cx="337.29" cy="481.65" r="2.9" fill="#19b34d"/>
<circle cx="339.22" cy="481.65" r="2.9" fill="#19b34d"/>
<circle cx="341.06" cy="481.65" r="2.9" fill="#19b34d"/>
<polyline points="69.28,428.89 94.07,441.11 108.57,444.21 118.85,389.31 126.83,410.07 159.59,440.14 176.40,461.87 190.90,475.06 201.18,480.30 209.16,479.91 233.94,477.19 258.73,478.36 273.23,477.58 283.51,480.30 291.49,478.74 298.01,477.58 303.52,478.74 308.30,479.13 312.51,477.97 316.27,477.97 319.68,477.77 322.79,477.77 325.65,477.58 328.30,477.39 330.77,471.37 333.08,469.82 335.25,476.03 337.29,476.80 339.22,477.19 341.06,477.97" fill="none" stroke="#ed7d31" stroke-width="2" stroke-linejoin="round"/>
<circle cx="69.28" cy="428.89" r="2.9" fill="#ed7d31"/>
<circle cx="94.07" cy="441.11" r="2.9" fill="#ed7d31"/>
<circle cx="108.57" cy="444.21" r="2.9" fill="#ed7d31"/>
<circle cx="118.85" cy="389.31" r="2.9" fill="#ed7d31"/>
<circle cx="126.83" cy="410.07" r="2.9" fill="#ed7d31"/>
<circle cx="159.59" cy="440.14" r="2.9" fill="#ed7d31"/>
<circle cx="176.40" cy="461.87" r="2.9" fill="#ed7d31"/>
<circle cx="190.90" cy="475.06" r="2.9" fill="#ed7d31"/>
<circle cx="201.18" cy="480.30" r="2.9" fill="#ed7d31"/>
<circle cx="209.16" cy="479.91" r="2.9" fill="#ed7d31"/>
<circle cx="233.94" cy="477.19" r="2.9" fill="#ed7d31"/>
<circle cx="258.73" cy="478.36" r="2.9" fill="#ed7d31"/>
<circle cx="273.23" cy="477.58" r="2.9" fill="#ed7d31"/>
<circle cx="283.51" cy="480.30" r="2.9" fill="#ed7d31"/>
<circle cx="291.49" cy="478.74" r="2.9" fill="#ed7d31"/>
<circle cx="298.01" cy="477.58" r="2.9" fill="#ed7d31"/>
<circle cx="303.52" cy="478.74" r="2.9" fill="#ed7d31"/>
<circle cx="308.30" cy="479.13" r="2.9" fill="#ed7d31"/>
<circle cx="312.51" cy="477.97" r="2.9" fill="#ed7d31"/>
<circle cx="316.27" cy="477.97" r="2.9" fill="#ed7d31"/>
<circle cx="319.68" cy="477.77" r="2.9" fill="#ed7d31"/>
<circle cx="322.79" cy="477.77" r="2.9" fill="#ed7d31"/>
<circle cx="325.65" cy="477.58" r="2.9" fill="#ed7d31"/>
<circle cx="328.30" cy="477.39" r="2.9" fill="#ed7d31"/>
<circle cx="330.77" cy="471.37" r="2.9" fill="#ed7d31"/>
<circle cx="333.08" cy="469.82" r="2.9" fill="#ed7d31"/>
<circle cx="335.25" cy="476.03" r="2.9" fill="#ed7d31"/>
<circle cx="337.29" cy="476.80" r="2.9" fill="#ed7d31"/>
<circle cx="339.22" cy="477.19" r="2.9" fill="#ed7d31"/>
<circle cx="341.06" cy="477.97" r="2.9" fill="#ed7d31"/>
<polyline points="69.28,398.82 94.07,397.07 108.57,385.62 118.85,377.09 126.83,357.88 159.59,396.49 176.40,447.32 190.90,449.45 201.18,475.64 209.16,479.71 233.94,478.74 258.73,479.52 273.23,479.13 283.51,475.25 291.49,469.82 298.01,472.34 303.52,471.57 308.30,467.69 312.51,470.21 316.27,468.27 319.68,469.04 322.79,468.27 325.65,466.91 328.30,463.03 330.77,444.02 333.08,416.47 335.25,446.73 337.29,451.58 339.22,454.30 341.06,463.22" fill="none" stroke="#ff0000" stroke-width="2" stroke-linejoin="round"/>
<circle cx="69.28" cy="398.82" r="2.9" fill="#ff0000"/>
<circle cx="94.07" cy="397.07" r="2.9" fill="#ff0000"/>
<circle cx="108.57" cy="385.62" r="2.9" fill="#ff0000"/>
<circle cx="118.85" cy="377.09" r="2.9" fill="#ff0000"/>
<circle cx="126.83" cy="357.88" r="2.9" fill="#ff0000"/>
<circle cx="159.59" cy="396.49" r="2.9" fill="#ff0000"/>
<circle cx="176.40" cy="447.32" r="2.9" fill="#ff0000"/>
<circle cx="190.90" cy="449.45" r="2.9" fill="#ff0000"/>
<circle cx="201.18" cy="475.64" r="2.9" fill="#ff0000"/>
<circle cx="209.16" cy="479.71" r="2.9" fill="#ff0000"/>
<circle cx="233.94" cy="478.74" r="2.9" fill="#ff0000"/>
<circle cx="258.73" cy="479.52" r="2.9" fill="#ff0000"/>
<circle cx="273.23" cy="479.13" r="2.9" fill="#ff0000"/>
<circle cx="283.51" cy="475.25" r="2.9" fill="#ff0000"/>
<circle cx="291.49" cy="469.82" r="2.9" fill="#ff0000"/>
<circle cx="298.01" cy="472.34" r="2.9" fill="#ff0000"/>
<circle cx="303.52" cy="471.57" r="2.9" fill="#ff0000"/>
<circle cx="308.30" cy="467.69" r="2.9" fill="#ff0000"/>
<circle cx="312.51" cy="470.21" r="2.9" fill="#ff0000"/>
<circle cx="316.27" cy="468.27" r="2.9" fill="#ff0000"/>
<circle cx="319.68" cy="469.04" r="2.9" fill="#ff0000"/>
<circle cx="322.79" cy="468.27" r="2.9" fill="#ff0000"/>
<circle cx="325.65" cy="466.91" r="2.9" fill="#ff0000"/>
<circle cx="328.30" cy="463.03" r="2.9" fill="#ff0000"/>
<circle cx="330.77" cy="444.02" r="2.9" fill="#ff0000"/>
<circle cx="333.08" cy="416.47" r="2.9" fill="#ff0000"/>
<circle cx="335.25" cy="446.73" r="2.9" fill="#ff0000"/>
<circle cx="337.29" cy="451.58" r="2.9" fill="#ff0000"/>
<circle cx="339.22" cy="454.30" r="2.9" fill="#ff0000"/>
<circle cx="341.06" cy="463.22" r="2.9" fill="#ff0000"/>
<polygon points="126.40,437.30 127.99,441.72 132.68,441.86 128.97,444.73 130.28,449.24 126.40,446.60 122.52,449.24 123.83,444.73 120.12,441.86 124.81,441.72" fill="#4472c4" stroke="#2f528f" stroke-width="0.7"/>
<text x="102.88" y="458.00" font-size="11.2" textLength="57.39" lengthAdjust="spacingAndGlyphs" fill="#1a1a1a">DSB=208.5</text>
<text x="187.07" y="488.02" font-size="15.3" textLength="8.51" lengthAdjust="spacingAndGlyphs" fill="#1a1a1a">0</text>
<text x="170.06" y="449.22" font-size="15.3" textLength="25.53" lengthAdjust="spacingAndGlyphs" fill="#1a1a1a">200</text>
<text x="170.06" y="410.42" font-size="15.3" textLength="25.53" lengthAdjust="spacingAndGlyphs" fill="#1a1a1a">400</text>
<text x="170.06" y="371.62" font-size="15.3" textLength="25.53" lengthAdjust="spacingAndGlyphs" fill="#1a1a1a">600</text>
<text x="170.06" y="332.82" font-size="15.3" textLength="25.53" lengthAdjust="spacingAndGlyphs" fill="#1a1a1a">800</text>
<mask id="m1_12" maskUnits="userSpaceOnUse" x="0" y="0" width="685" height="552"><rect x="0" y="0" width="685" height="552" fill="#fff"/><rect x="50.19" y="505.40" width="3.10" height="3.00" fill="#000"/><rect x="54.59" y="505.40" width="3.25" height="3.00" fill="#000"/></mask>
<text x="29.17" y="506.80" font-size="14.7" textLength="28.61" lengthAdjust="spacingAndGlyphs" fill="#1a1a1a" mask="url(#m1_12)">0.01</text>
<mask id="m1_13" maskUnits="userSpaceOnUse" x="0" y="0" width="685" height="552"><rect x="0" y="0" width="685" height="552" fill="#fff"/><rect x="128.30" y="505.40" width="3.10" height="3.00" fill="#000"/><rect x="132.70" y="505.40" width="3.25" height="3.00" fill="#000"/></mask>
<text x="115.46" y="506.80" font-size="14.7" textLength="20.44" lengthAdjust="spacingAndGlyphs" fill="#1a1a1a" mask="url(#m1_13)">0.1</text>
<mask id="m1_14" maskUnits="userSpaceOnUse" x="0" y="0" width="685" height="552"><rect x="0" y="0" width="685" height="552" fill="#fff"/><rect x="205.60" y="505.40" width="3.10" height="3.00" fill="#000"/><rect x="209.99" y="505.40" width="3.25" height="3.00" fill="#000"/></mask>
<text x="205.01" y="506.80" font-size="14.7" textLength="8.18" lengthAdjust="spacingAndGlyphs" fill="#1a1a1a" mask="url(#m1_14)">1</text>
<mask id="m1_15" maskUnits="userSpaceOnUse" x="0" y="0" width="685" height="552"><rect x="0" y="0" width="685" height="552" fill="#fff"/><rect x="283.84" y="505.40" width="3.10" height="3.00" fill="#000"/><rect x="288.23" y="505.40" width="3.25" height="3.00" fill="#000"/></mask>
<text x="283.25" y="506.80" font-size="14.7" textLength="16.35" lengthAdjust="spacingAndGlyphs" fill="#1a1a1a" mask="url(#m1_15)">10</text>
<text x="167.43" y="525.60" font-size="13.4" textLength="88.51" lengthAdjust="spacingAndGlyphs" fill="#1a1a1a">Frequency [Hz]</text>
<text x="136.11" y="548.90" font-size="14.4" textLength="143.45" lengthAdjust="spacingAndGlyphs" fill="#1a1a1a">(c) Total power of HRV</text>
<text transform="translate(36.3,401.0) rotate(-90)" font-size="13" text-anchor="middle" fill="#1a1a1a" textLength="143.3" lengthAdjust="spacingAndGlyphs">Total power of HRV [ms<tspan font-size="8.5" dy="-5">2</tspan><tspan dy="5">]</tspan></text>
<line x1="71.60" y1="301.60" x2="94.20" y2="301.60" stroke="#1b5f8c" stroke-width="1.7"/>
<circle cx="82.90" cy="301.60" r="2.6" fill="#1b5f8c"/>
<text x="95.13" y="305.80" font-size="15" textLength="59.56" lengthAdjust="spacingAndGlyphs" fill="#1a1a1a">Baseline</text>
<line x1="166.80" y1="301.60" x2="188.60" y2="301.60" stroke="#19b34d" stroke-width="1.7"/>
<circle cx="177.70" cy="301.60" r="2.6" fill="#19b34d"/>
<text x="190.41" y="305.80" font-size="15" textLength="16.89" lengthAdjust="spacingAndGlyphs" fill="#1a1a1a">x2</text>
<line x1="218.40" y1="301.60" x2="240.60" y2="301.60" stroke="#ed7d31" stroke-width="1.7"/>
<circle cx="229.50" cy="301.60" r="2.6" fill="#ed7d31"/>
<text x="241.60" y="305.80" font-size="15" textLength="17.22" lengthAdjust="spacingAndGlyphs" fill="#1a1a1a">x3</text>
<line x1="270.30" y1="301.60" x2="292.00" y2="301.60" stroke="#ff0000" stroke-width="1.7"/>
<circle cx="281.15" cy="301.60" r="2.6" fill="#ff0000"/>
<text x="293.41" y="305.80" font-size="15" textLength="16.53" lengthAdjust="spacingAndGlyphs" fill="#1a1a1a">x4</text>
<line x1="386.10" y1="441.55" x2="673.60" y2="441.55" stroke="#d4d4d4" stroke-width="1" stroke-dasharray="4.3,2.76"/>
<line x1="386.10" y1="403.30" x2="673.60" y2="403.30" stroke="#d4d4d4" stroke-width="1" stroke-dasharray="4.3,2.76"/>
<line x1="386.10" y1="365.05" x2="673.60" y2="365.05" stroke="#d4d4d4" stroke-width="1" stroke-dasharray="4.3,2.76"/>
<line x1="465.87" y1="326.80" x2="465.87" y2="479.80" stroke="#d9d9d9" stroke-width="1"/>
<line x1="625.41" y1="326.80" x2="625.41" y2="479.80" stroke="#d9d9d9" stroke-width="1"/>
<rect x="386.1" y="326.8" width="287.50" height="153.00" fill="none" stroke="#333" stroke-width="1.3"/>
<line x1="545.64" y1="326.80" x2="545.64" y2="479.80" stroke="#333" stroke-width="1.3"/>
<line x1="545.64" y1="441.55" x2="549.64" y2="441.55" stroke="#333" stroke-width="1.3"/>
<line x1="545.64" y1="403.30" x2="549.64" y2="403.30" stroke="#333" stroke-width="1.3"/>
<line x1="545.64" y1="365.05" x2="549.64" y2="365.05" stroke="#333" stroke-width="1.3"/>
<polyline points="410.11,470.62 434.13,472.15 448.17,470.93 458.14,470.62 465.87,470.93 497.61,470.93 513.90,471.38 527.94,472.15 537.91,471.38 545.64,472.92 569.65,472.69 593.67,472.69 607.71,472.69 617.68,472.69 625.41,472.15 631.73,472.15 637.07,472.15 641.69,472.15 645.77,472.15 649.42,472.15 652.73,472.15 655.74,472.15 658.51,472.15 661.08,472.15 663.47,472.15 665.71,472.15 667.81,472.15 669.79,472.15 671.66,472.15 673.44,472.15" fill="none" stroke="#0f2a6e" stroke-width="2" stroke-linejoin="round"/>
<circle cx="410.11" cy="470.62" r="2.9" fill="#0f2a6e"/>
<circle cx="434.13" cy="472.15" r="2.9" fill="#0f2a6e"/>
<circle cx="448.17" cy="470.93" r="2.9" fill="#0f2a6e"/>
<circle cx="458.14" cy="470.62" r="2.9" fill="#0f2a6e"/>
<circle cx="465.87" cy="470.93" r="2.9" fill="#0f2a6e"/>
<circle cx="497.61" cy="470.93" r="2.9" fill="#0f2a6e"/>
<circle cx="513.90" cy="471.38" r="2.9" fill="#0f2a6e"/>
<circle cx="527.94" cy="472.15" r="2.9" fill="#0f2a6e"/>
<circle cx="537.91" cy="471.38" r="2.9" fill="#0f2a6e"/>
<circle cx="545.64" cy="472.92" r="2.9" fill="#0f2a6e"/>
<circle cx="569.65" cy="472.69" r="2.9" fill="#0f2a6e"/>
<circle cx="593.67" cy="472.69" r="2.9" fill="#0f2a6e"/>
<circle cx="607.71" cy="472.69" r="2.9" fill="#0f2a6e"/>
<circle cx="617.68" cy="472.69" r="2.9" fill="#0f2a6e"/>
<circle cx="625.41" cy="472.15" r="2.9" fill="#0f2a6e"/>
<circle cx="631.73" cy="472.15" r="2.9" fill="#0f2a6e"/>
<circle cx="637.07" cy="472.15" r="2.9" fill="#0f2a6e"/>
<circle cx="641.69" cy="472.15" r="2.9" fill="#0f2a6e"/>
<circle cx="645.77" cy="472.15" r="2.9" fill="#0f2a6e"/>
<circle cx="649.42" cy="472.15" r="2.9" fill="#0f2a6e"/>
<circle cx="652.73" cy="472.15" r="2.9" fill="#0f2a6e"/>
<circle cx="655.74" cy="472.15" r="2.9" fill="#0f2a6e"/>
<circle cx="658.51" cy="472.15" r="2.9" fill="#0f2a6e"/>
<circle cx="661.08" cy="472.15" r="2.9" fill="#0f2a6e"/>
<circle cx="663.47" cy="472.15" r="2.9" fill="#0f2a6e"/>
<circle cx="665.71" cy="472.15" r="2.9" fill="#0f2a6e"/>
<circle cx="667.81" cy="472.15" r="2.9" fill="#0f2a6e"/>
<circle cx="669.79" cy="472.15" r="2.9" fill="#0f2a6e"/>
<circle cx="671.66" cy="472.15" r="2.9" fill="#0f2a6e"/>
<circle cx="673.44" cy="472.15" r="2.9" fill="#0f2a6e"/>
<polyline points="410.11,451.80 434.13,458.38 448.17,456.85 458.14,447.67 465.87,453.03 497.61,464.12 513.90,467.18 527.94,469.09 537.91,469.86 545.64,469.09 569.65,470.01 593.67,473.53 607.71,472.69 617.68,470.01 625.41,470.62 631.73,470.62 637.07,470.62 641.69,470.62 645.77,470.62 649.42,470.62 652.73,470.62 655.74,470.62 658.51,470.62 661.08,470.62 663.47,469.09 665.71,469.86 667.81,469.86 669.79,470.62 671.66,470.62 673.44,470.62" fill="none" stroke="#19b34d" stroke-width="2" stroke-linejoin="round"/>
<circle cx="410.11" cy="451.80" r="2.9" fill="#19b34d"/>
<circle cx="434.13" cy="458.38" r="2.9" fill="#19b34d"/>
<circle cx="448.17" cy="456.85" r="2.9" fill="#19b34d"/>
<circle cx="458.14" cy="447.67" r="2.9" fill="#19b34d"/>
<circle cx="465.87" cy="453.03" r="2.9" fill="#19b34d"/>
<circle cx="497.61" cy="464.12" r="2.9" fill="#19b34d"/>
<circle cx="513.90" cy="467.18" r="2.9" fill="#19b34d"/>
<circle cx="527.94" cy="469.09" r="2.9" fill="#19b34d"/>
<circle cx="537.91" cy="469.86" r="2.9" fill="#19b34d"/>
<circle cx="545.64" cy="469.09" r="2.9" fill="#19b34d"/>
<circle cx="569.65" cy="470.01" r="2.9" fill="#19b34d"/>
<circle cx="593.67" cy="473.53" r="2.9" fill="#19b34d"/>
<circle cx="607.71" cy="472.69" r="2.9" fill="#19b34d"/>
<circle cx="617.68" cy="470.01" r="2.9" fill="#19b34d"/>
<circle cx="625.41" cy="470.62" r="2.9" fill="#19b34d"/>
<circle cx="631.73" cy="470.62" r="2.9" fill="#19b34d"/>
<circle cx="637.07" cy="470.62" r="2.9" fill="#19b34d"/>
<circle cx="641.69" cy="470.62" r="2.9" fill="#19b34d"/>
<circle cx="645.77" cy="470.62" r="2.9" fill="#19b34d"/>
<circle cx="649.42" cy="470.62" r="2.9" fill="#19b34d"/>
<circle cx="652.73" cy="470.62" r="2.9" fill="#19b34d"/>
<circle cx="655.74" cy="470.62" r="2.9" fill="#19b34d"/>
<circle cx="658.51" cy="470.62" r="2.9" fill="#19b34d"/>
<circle cx="661.08" cy="470.62" r="2.9" fill="#19b34d"/>
<circle cx="663.47" cy="469.09" r="2.9" fill="#19b34d"/>
<circle cx="665.71" cy="469.86" r="2.9" fill="#19b34d"/>
<circle cx="667.81" cy="469.86" r="2.9" fill="#19b34d"/>
<circle cx="669.79" cy="470.62" r="2.9" fill="#19b34d"/>
<circle cx="671.66" cy="470.62" r="2.9" fill="#19b34d"/>
<circle cx="673.44" cy="470.62" r="2.9" fill="#19b34d"/>
<polyline points="410.11,384.18 434.13,400.24 448.17,410.95 458.14,377.29 465.87,400.62 497.61,444.99 513.90,462.21 527.94,465.26 537.91,467.18 545.64,466.03 569.65,464.96 593.67,464.50 607.71,467.56 617.68,472.15 625.41,469.47 631.73,469.09 637.07,469.09 641.69,469.09 645.77,469.09 649.42,469.09 652.73,469.09 655.74,469.09 658.51,469.09 661.08,469.09 663.47,462.97 665.71,462.51 667.81,463.28 669.79,464.96 671.66,468.02 673.44,469.09" fill="none" stroke="#ed7d31" stroke-width="2" stroke-linejoin="round"/>
<circle cx="410.11" cy="384.18" r="2.9" fill="#ed7d31"/>
<circle cx="434.13" cy="400.24" r="2.9" fill="#ed7d31"/>
<circle cx="448.17" cy="410.95" r="2.9" fill="#ed7d31"/>
<circle cx="458.14" cy="377.29" r="2.9" fill="#ed7d31"/>
<circle cx="465.87" cy="400.62" r="2.9" fill="#ed7d31"/>
<circle cx="497.61" cy="444.99" r="2.9" fill="#ed7d31"/>
<circle cx="513.90" cy="462.21" r="2.9" fill="#ed7d31"/>
<circle cx="527.94" cy="465.26" r="2.9" fill="#ed7d31"/>
<circle cx="537.91" cy="467.18" r="2.9" fill="#ed7d31"/>
<circle cx="545.64" cy="466.03" r="2.9" fill="#ed7d31"/>
<circle cx="569.65" cy="464.96" r="2.9" fill="#ed7d31"/>
<circle cx="593.67" cy="464.50" r="2.9" fill="#ed7d31"/>
<circle cx="607.71" cy="467.56" r="2.9" fill="#ed7d31"/>
<circle cx="617.68" cy="472.15" r="2.9" fill="#ed7d31"/>
<circle cx="625.41" cy="469.47" r="2.9" fill="#ed7d31"/>
<circle cx="631.73" cy="469.09" r="2.9" fill="#ed7d31"/>
<circle cx="637.07" cy="469.09" r="2.9" fill="#ed7d31"/>
<circle cx="641.69" cy="469.09" r="2.9" fill="#ed7d31"/>
<circle cx="645.77" cy="469.09" r="2.9" fill="#ed7d31"/>
<circle cx="649.42" cy="469.09" r="2.9" fill="#ed7d31"/>
<circle cx="652.73" cy="469.09" r="2.9" fill="#ed7d31"/>
<circle cx="655.74" cy="469.09" r="2.9" fill="#ed7d31"/>
<circle cx="658.51" cy="469.09" r="2.9" fill="#ed7d31"/>
<circle cx="661.08" cy="469.09" r="2.9" fill="#ed7d31"/>
<circle cx="663.47" cy="462.97" r="2.9" fill="#ed7d31"/>
<circle cx="665.71" cy="462.51" r="2.9" fill="#ed7d31"/>
<circle cx="667.81" cy="463.28" r="2.9" fill="#ed7d31"/>
<circle cx="669.79" cy="464.96" r="2.9" fill="#ed7d31"/>
<circle cx="671.66" cy="468.02" r="2.9" fill="#ed7d31"/>
<circle cx="673.44" cy="469.09" r="2.9" fill="#ed7d31"/>
<polyline points="410.11,334.60 434.13,348.99 448.17,357.40 458.14,365.43 465.87,365.05 497.61,428.93 513.90,455.47 527.94,450.73 537.91,466.80 545.64,463.74 569.65,470.62 593.67,468.63 607.71,466.95 617.68,463.28 625.41,458.38 631.73,461.90 637.07,460.45 641.69,461.90 645.77,459.14 649.42,456.09 652.73,460.29 655.74,457.77 658.51,455.32 661.08,456.85 663.47,449.20 665.71,441.55 667.81,450.73 669.79,451.65 671.66,452.26 673.44,458.38" fill="none" stroke="#ff0000" stroke-width="2" stroke-linejoin="round"/>
<circle cx="410.11" cy="334.60" r="2.9" fill="#ff0000"/>
<circle cx="434.13" cy="348.99" r="2.9" fill="#ff0000"/>
<circle cx="448.17" cy="357.40" r="2.9" fill="#ff0000"/>
<circle cx="458.14" cy="365.43" r="2.9" fill="#ff0000"/>
<circle cx="465.87" cy="365.05" r="2.9" fill="#ff0000"/>
<circle cx="497.61" cy="428.93" r="2.9" fill="#ff0000"/>
<circle cx="513.90" cy="455.47" r="2.9" fill="#ff0000"/>
<circle cx="527.94" cy="450.73" r="2.9" fill="#ff0000"/>
<circle cx="537.91" cy="466.80" r="2.9" fill="#ff0000"/>
<circle cx="545.64" cy="463.74" r="2.9" fill="#ff0000"/>
<circle cx="569.65" cy="470.62" r="2.9" fill="#ff0000"/>
<circle cx="593.67" cy="468.63" r="2.9" fill="#ff0000"/>
<circle cx="607.71" cy="466.95" r="2.9" fill="#ff0000"/>
<circle cx="617.68" cy="463.28" r="2.9" fill="#ff0000"/>
<circle cx="625.41" cy="458.38" r="2.9" fill="#ff0000"/>
<circle cx="631.73" cy="461.90" r="2.9" fill="#ff0000"/>
<circle cx="637.07" cy="460.45" r="2.9" fill="#ff0000"/>
<circle cx="641.69" cy="461.90" r="2.9" fill="#ff0000"/>
<circle cx="645.77" cy="459.14" r="2.9" fill="#ff0000"/>
<circle cx="649.42" cy="456.09" r="2.9" fill="#ff0000"/>
<circle cx="652.73" cy="460.29" r="2.9" fill="#ff0000"/>
<circle cx="655.74" cy="457.77" r="2.9" fill="#ff0000"/>
<circle cx="658.51" cy="455.32" r="2.9" fill="#ff0000"/>
<circle cx="661.08" cy="456.85" r="2.9" fill="#ff0000"/>
<circle cx="663.47" cy="449.20" r="2.9" fill="#ff0000"/>
<circle cx="665.71" cy="441.55" r="2.9" fill="#ff0000"/>
<circle cx="667.81" cy="450.73" r="2.9" fill="#ff0000"/>
<circle cx="669.79" cy="451.65" r="2.9" fill="#ff0000"/>
<circle cx="671.66" cy="452.26" r="2.9" fill="#ff0000"/>
<circle cx="673.44" cy="458.38" r="2.9" fill="#ff0000"/>
<polygon points="465.10,390.40 466.69,394.82 471.38,394.96 467.67,397.83 468.98,402.34 465.10,399.70 461.22,402.34 462.53,397.83 458.82,394.96 463.51,394.82" fill="#4472c4" stroke="#2f528f" stroke-width="0.7"/>
<text x="464.08" y="384.70" font-size="11.2" textLength="57.87" lengthAdjust="spacingAndGlyphs" fill="#1a1a1a">DSB=109.9</text>
<text x="524.59" y="484.03" font-size="14.5" textLength="8.06" lengthAdjust="spacingAndGlyphs" fill="#1a1a1a">0</text>
<text x="516.53" y="445.78" font-size="14.5" textLength="16.13" lengthAdjust="spacingAndGlyphs" fill="#1a1a1a">50</text>
<mask id="m1_16" maskUnits="userSpaceOnUse" x="0" y="0" width="685" height="552"><rect x="0" y="0" width="685" height="552" fill="#fff"/><rect x="509.05" y="406.16" width="3.06" height="2.98" fill="#000"/><rect x="513.38" y="406.16" width="3.20" height="2.98" fill="#000"/></mask>
<text x="508.47" y="407.53" font-size="14.5" textLength="24.19" lengthAdjust="spacingAndGlyphs" fill="#1a1a1a" mask="url(#m1_16)">100</text>
<mask id="m1_17" maskUnits="userSpaceOnUse" x="0" y="0" width="685" height="552"><rect x="0" y="0" width="685" height="552" fill="#fff"/><rect x="509.05" y="367.91" width="3.06" height="2.98" fill="#000"/><rect x="513.38" y="367.91" width="3.20" height="2.98" fill="#000"/></mask>
<text x="508.47" y="369.28" font-size="14.5" textLength="24.19" lengthAdjust="spacingAndGlyphs" fill="#1a1a1a" mask="url(#m1_17)">150</text>
<text x="508.47" y="331.03" font-size="14.5" textLength="24.19" lengthAdjust="spacingAndGlyphs" fill="#1a1a1a">200</text>
<mask id="m1_18" maskUnits="userSpaceOnUse" x="0" y="0" width="685" height="552"><rect x="0" y="0" width="685" height="552" fill="#fff"/><rect x="391.93" y="501.00" width="2.89" height="2.90" fill="#000"/><rect x="396.03" y="501.00" width="3.03" height="2.90" fill="#000"/></mask>
<text x="372.34" y="502.30" font-size="13.7" textLength="26.66" lengthAdjust="spacingAndGlyphs" fill="#1a1a1a" mask="url(#m1_18)">0.01</text>
<mask id="m1_19" maskUnits="userSpaceOnUse" x="0" y="0" width="685" height="552"><rect x="0" y="0" width="685" height="552" fill="#fff"/><rect x="468.12" y="501.00" width="2.89" height="2.90" fill="#000"/><rect x="472.22" y="501.00" width="3.03" height="2.90" fill="#000"/></mask>
<text x="456.15" y="502.30" font-size="13.7" textLength="19.05" lengthAdjust="spacingAndGlyphs" fill="#1a1a1a" mask="url(#m1_19)">0.1</text>
<mask id="m1_20" maskUnits="userSpaceOnUse" x="0" y="0" width="685" height="552"><rect x="0" y="0" width="685" height="552" fill="#fff"/><rect x="542.35" y="501.00" width="2.89" height="2.90" fill="#000"/><rect x="546.44" y="501.00" width="3.03" height="2.90" fill="#000"/></mask>
<text x="541.80" y="502.30" font-size="13.7" textLength="7.62" lengthAdjust="spacingAndGlyphs" fill="#1a1a1a" mask="url(#m1_20)">1</text>
<mask id="m1_21" maskUnits="userSpaceOnUse" x="0" y="0" width="685" height="552"><rect x="0" y="0" width="685" height="552" fill="#fff"/><rect x="618.87" y="501.00" width="2.89" height="2.90" fill="#000"/><rect x="622.97" y="501.00" width="3.03" height="2.90" fill="#000"/></mask>
<text x="618.32" y="502.30" font-size="13.7" textLength="15.24" lengthAdjust="spacingAndGlyphs" fill="#1a1a1a" mask="url(#m1_21)">10</text>
<text x="475.53" y="522.20" font-size="13.2" textLength="88.41" lengthAdjust="spacingAndGlyphs" fill="#1a1a1a">Frequency [Hz]</text>
<text x="498.99" y="547.30" font-size="14.4" textLength="63.40" lengthAdjust="spacingAndGlyphs" fill="#1a1a1a">(d) SDNN</text>
<text transform="translate(380.10,414.30) rotate(-90)" x="-0.60" y="0" font-size="12.6" textLength="36.96" lengthAdjust="spacingAndGlyphs" fill="#1a1a1a">SDNN</text>
<line x1="413.90" y1="301.50" x2="435.60" y2="301.50" stroke="#0f2a6e" stroke-width="1.7"/>
<circle cx="424.75" cy="301.50" r="2.6" fill="#0f2a6e"/>
<text x="437.08" y="305.50" font-size="14.6" textLength="56.97" lengthAdjust="spacingAndGlyphs" fill="#1a1a1a">Baseline</text>
<line x1="504.60" y1="301.50" x2="525.60" y2="301.50" stroke="#19b34d" stroke-width="1.7"/>
<circle cx="515.10" cy="301.50" r="2.6" fill="#19b34d"/>
<text x="527.31" y="305.50" font-size="14.6" textLength="16.36" lengthAdjust="spacingAndGlyphs" fill="#1a1a1a">x2</text>
<line x1="553.70" y1="301.50" x2="575.20" y2="301.50" stroke="#ed7d31" stroke-width="1.7"/>
<circle cx="564.45" cy="301.50" r="2.6" fill="#ed7d31"/>
<text x="576.82" y="305.50" font-size="14.6" textLength="16.05" lengthAdjust="spacingAndGlyphs" fill="#1a1a1a">x3</text>
<line x1="602.70" y1="301.50" x2="624.60" y2="301.50" stroke="#ff0000" stroke-width="1.7"/>
<circle cx="613.65" cy="301.50" r="2.6" fill="#ff0000"/>
<text x="626.23" y="305.50" font-size="14.6" textLength="15.38" lengthAdjust="spacingAndGlyphs" fill="#1a1a1a">x4</text>
</svg>
</body></html>
